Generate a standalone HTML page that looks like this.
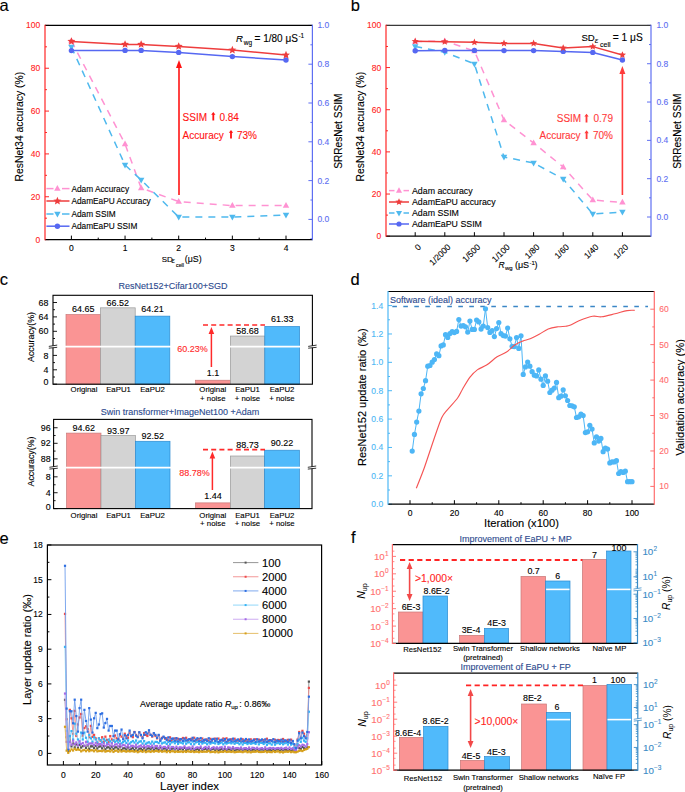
<!DOCTYPE html>
<html><head><meta charset="utf-8"><style>
html,body{margin:0;padding:0;background:#fff;width:685px;height:792px;overflow:hidden}
svg{display:block;font-family:"Liberation Sans", sans-serif}
</style></head><body>
<svg width="685" height="792" viewBox="0 0 685 792">
<rect width="685" height="792" fill="#fff"/>
<text x="-0.50" y="11.00" font-size="16.5" fill="#000" stroke="#000" stroke-width="0.12" text-anchor="start">a</text>
<line x1="45.00" y1="239.60" x2="49.00" y2="239.60" stroke="#FF2626" stroke-width="1"/>
<text x="40.20" y="242.60" font-size="8.5" fill="#FF2626" stroke="#FF2626" stroke-width="0.12" text-anchor="end">0</text>
<line x1="45.00" y1="218.18" x2="47.00" y2="218.18" stroke="#FF2626" stroke-width="1"/>
<line x1="45.00" y1="196.76" x2="49.00" y2="196.76" stroke="#FF2626" stroke-width="1"/>
<text x="40.20" y="199.76" font-size="8.5" fill="#FF2626" stroke="#FF2626" stroke-width="0.12" text-anchor="end">20</text>
<line x1="45.00" y1="175.34" x2="47.00" y2="175.34" stroke="#FF2626" stroke-width="1"/>
<line x1="45.00" y1="153.92" x2="49.00" y2="153.92" stroke="#FF2626" stroke-width="1"/>
<text x="40.20" y="156.92" font-size="8.5" fill="#FF2626" stroke="#FF2626" stroke-width="0.12" text-anchor="end">40</text>
<line x1="45.00" y1="132.50" x2="47.00" y2="132.50" stroke="#FF2626" stroke-width="1"/>
<line x1="45.00" y1="111.08" x2="49.00" y2="111.08" stroke="#FF2626" stroke-width="1"/>
<text x="40.20" y="114.08" font-size="8.5" fill="#FF2626" stroke="#FF2626" stroke-width="0.12" text-anchor="end">60</text>
<line x1="45.00" y1="89.66" x2="47.00" y2="89.66" stroke="#FF2626" stroke-width="1"/>
<line x1="45.00" y1="68.24" x2="49.00" y2="68.24" stroke="#FF2626" stroke-width="1"/>
<text x="40.20" y="71.24" font-size="8.5" fill="#FF2626" stroke="#FF2626" stroke-width="0.12" text-anchor="end">80</text>
<line x1="45.00" y1="46.82" x2="47.00" y2="46.82" stroke="#FF2626" stroke-width="1"/>
<line x1="45.00" y1="25.40" x2="49.00" y2="25.40" stroke="#FF2626" stroke-width="1"/>
<text x="40.20" y="28.40" font-size="8.5" fill="#FF2626" stroke="#FF2626" stroke-width="0.12" text-anchor="end">100</text>
<line x1="312.40" y1="238.80" x2="310.40" y2="238.80" stroke="#5E6FF2" stroke-width="1"/>
<line x1="312.40" y1="219.40" x2="308.40" y2="219.40" stroke="#5E6FF2" stroke-width="1"/>
<text x="317.40" y="222.40" font-size="8.5" fill="#5E6FF2" stroke="#5E6FF2" stroke-width="0.12" text-anchor="start">0.0</text>
<line x1="312.40" y1="200.00" x2="310.40" y2="200.00" stroke="#5E6FF2" stroke-width="1"/>
<line x1="312.40" y1="180.60" x2="308.40" y2="180.60" stroke="#5E6FF2" stroke-width="1"/>
<text x="317.40" y="183.60" font-size="8.5" fill="#5E6FF2" stroke="#5E6FF2" stroke-width="0.12" text-anchor="start">0.2</text>
<line x1="312.40" y1="161.20" x2="310.40" y2="161.20" stroke="#5E6FF2" stroke-width="1"/>
<line x1="312.40" y1="141.80" x2="308.40" y2="141.80" stroke="#5E6FF2" stroke-width="1"/>
<text x="317.40" y="144.80" font-size="8.5" fill="#5E6FF2" stroke="#5E6FF2" stroke-width="0.12" text-anchor="start">0.4</text>
<line x1="312.40" y1="122.40" x2="310.40" y2="122.40" stroke="#5E6FF2" stroke-width="1"/>
<line x1="312.40" y1="103.00" x2="308.40" y2="103.00" stroke="#5E6FF2" stroke-width="1"/>
<text x="317.40" y="106.00" font-size="8.5" fill="#5E6FF2" stroke="#5E6FF2" stroke-width="0.12" text-anchor="start">0.6</text>
<line x1="312.40" y1="83.60" x2="310.40" y2="83.60" stroke="#5E6FF2" stroke-width="1"/>
<line x1="312.40" y1="64.20" x2="308.40" y2="64.20" stroke="#5E6FF2" stroke-width="1"/>
<text x="317.40" y="67.20" font-size="8.5" fill="#5E6FF2" stroke="#5E6FF2" stroke-width="0.12" text-anchor="start">0.8</text>
<line x1="312.40" y1="44.80" x2="310.40" y2="44.80" stroke="#5E6FF2" stroke-width="1"/>
<line x1="312.40" y1="25.40" x2="308.40" y2="25.40" stroke="#5E6FF2" stroke-width="1"/>
<text x="317.40" y="28.40" font-size="8.5" fill="#5E6FF2" stroke="#5E6FF2" stroke-width="0.12" text-anchor="start">1.0</text>
<line x1="71.40" y1="239.60" x2="71.40" y2="235.60" stroke="#000" stroke-width="1"/>
<text x="71.40" y="251.20" font-size="8.5" fill="#000" stroke="#000" stroke-width="0.12" text-anchor="middle">0</text>
<line x1="98.23" y1="239.60" x2="98.23" y2="237.60" stroke="#000" stroke-width="1"/>
<line x1="125.05" y1="239.60" x2="125.05" y2="235.60" stroke="#000" stroke-width="1"/>
<text x="125.05" y="251.20" font-size="8.5" fill="#000" stroke="#000" stroke-width="0.12" text-anchor="middle">1</text>
<line x1="151.88" y1="239.60" x2="151.88" y2="237.60" stroke="#000" stroke-width="1"/>
<line x1="178.70" y1="239.60" x2="178.70" y2="235.60" stroke="#000" stroke-width="1"/>
<text x="178.70" y="251.20" font-size="8.5" fill="#000" stroke="#000" stroke-width="0.12" text-anchor="middle">2</text>
<line x1="205.53" y1="239.60" x2="205.53" y2="237.60" stroke="#000" stroke-width="1"/>
<line x1="232.35" y1="239.60" x2="232.35" y2="235.60" stroke="#000" stroke-width="1"/>
<text x="232.35" y="251.20" font-size="8.5" fill="#000" stroke="#000" stroke-width="0.12" text-anchor="middle">3</text>
<line x1="259.18" y1="239.60" x2="259.18" y2="237.60" stroke="#000" stroke-width="1"/>
<line x1="286.00" y1="239.60" x2="286.00" y2="235.60" stroke="#000" stroke-width="1"/>
<text x="286.00" y="251.20" font-size="8.5" fill="#000" stroke="#000" stroke-width="0.12" text-anchor="middle">4</text>
<line x1="45.00" y1="25.40" x2="312.40" y2="25.40" stroke="#000" stroke-width="1.2"/>
<line x1="45.00" y1="239.60" x2="312.40" y2="239.60" stroke="#000" stroke-width="1.2"/>
<line x1="45.00" y1="24.80" x2="45.00" y2="240.20" stroke="#FF2626" stroke-width="1.2"/>
<line x1="312.40" y1="24.80" x2="312.40" y2="240.20" stroke="#5E6FF2" stroke-width="1.2"/>
<polyline points="71.40,41.00 125.05,144.00 141.15,188.00 178.70,201.60 232.35,205.60 286.00,205.60" fill="none" stroke="#FF92D2" stroke-width="1.5" stroke-linejoin="round" stroke-dasharray="7,6"/>
<polygon points="71.40,37.40 74.64,43.16 68.16,43.16" fill="#FF92D2"/>
<polygon points="125.05,140.40 128.29,146.16 121.81,146.16" fill="#FF92D2"/>
<polygon points="141.15,184.40 144.39,190.16 137.91,190.16" fill="#FF92D2"/>
<polygon points="178.70,198.00 181.94,203.76 175.46,203.76" fill="#FF92D2"/>
<polygon points="232.35,202.00 235.59,207.76 229.11,207.76" fill="#FF92D2"/>
<polygon points="286.00,202.00 289.24,207.76 282.76,207.76" fill="#FF92D2"/>
<polyline points="71.40,47.00 125.05,165.00 141.15,180.00 178.70,217.00 232.35,217.00 286.00,215.00" fill="none" stroke="#4FB9EE" stroke-width="1.5" stroke-linejoin="round" stroke-dasharray="7,6"/>
<polygon points="71.40,50.60 74.64,44.84 68.16,44.84" fill="#4FB9EE"/>
<polygon points="125.05,168.60 128.29,162.84 121.81,162.84" fill="#4FB9EE"/>
<polygon points="141.15,183.60 144.39,177.84 137.91,177.84" fill="#4FB9EE"/>
<polygon points="178.70,220.60 181.94,214.84 175.46,214.84" fill="#4FB9EE"/>
<polygon points="232.35,220.60 235.59,214.84 229.11,214.84" fill="#4FB9EE"/>
<polygon points="286.00,218.60 289.24,212.84 282.76,212.84" fill="#4FB9EE"/>
<polyline points="71.40,50.60 125.05,50.40 141.15,50.40 178.70,52.40 232.35,56.60 286.00,60.00" fill="none" stroke="#5668F2" stroke-width="1.5" stroke-linejoin="round"/>
<circle cx="71.40" cy="50.60" r="2.7" fill="#5668F2"/>
<circle cx="125.05" cy="50.40" r="2.7" fill="#5668F2"/>
<circle cx="141.15" cy="50.40" r="2.7" fill="#5668F2"/>
<circle cx="178.70" cy="52.40" r="2.7" fill="#5668F2"/>
<circle cx="232.35" cy="56.60" r="2.7" fill="#5668F2"/>
<circle cx="286.00" cy="60.00" r="2.7" fill="#5668F2"/>
<polyline points="71.40,41.40 125.05,44.40 141.15,44.40 178.70,46.40 232.35,50.00 286.00,55.00" fill="none" stroke="#EE3D3D" stroke-width="1.5" stroke-linejoin="round"/>
<polygon points="71.40,37.20 72.51,39.87 75.39,40.10 73.20,41.98 73.87,44.80 71.40,43.29 68.93,44.80 69.60,41.98 67.41,40.10 70.29,39.87" fill="#EE3D3D"/>
<polygon points="125.05,40.20 126.16,42.87 129.04,43.10 126.85,44.98 127.52,47.80 125.05,46.29 122.58,47.80 123.25,44.98 121.06,43.10 123.94,42.87" fill="#EE3D3D"/>
<polygon points="141.15,40.20 142.26,42.87 145.14,43.10 142.94,44.98 143.61,47.80 141.15,46.29 138.68,47.80 139.35,44.98 137.15,43.10 140.03,42.87" fill="#EE3D3D"/>
<polygon points="178.70,42.20 179.81,44.87 182.69,45.10 180.50,46.98 181.17,49.80 178.70,48.29 176.23,49.80 176.90,46.98 174.71,45.10 177.59,44.87" fill="#EE3D3D"/>
<polygon points="232.35,45.80 233.46,48.47 236.34,48.70 234.15,50.58 234.82,53.40 232.35,51.89 229.88,53.40 230.55,50.58 228.36,48.70 231.24,48.47" fill="#EE3D3D"/>
<polygon points="286.00,50.80 287.11,53.47 289.99,53.70 287.80,55.58 288.47,58.40 286.00,56.89 283.53,58.40 284.20,55.58 282.01,53.70 284.89,53.47" fill="#EE3D3D"/>
<line x1="46.40" y1="188.60" x2="53.50" y2="188.60" stroke="#FF92D2" stroke-width="1.5"/>
<line x1="62.00" y1="188.60" x2="69.50" y2="188.60" stroke="#FF92D2" stroke-width="1.5"/>
<polygon points="57.40,185.00 60.64,190.76 54.16,190.76" fill="#FF92D2"/>
<text x="71.40" y="191.60" font-size="8.3" fill="#000" stroke="#000" stroke-width="0.12" text-anchor="start">Adam Accuracy</text>
<line x1="46.40" y1="201.00" x2="69.50" y2="201.00" stroke="#EE3D3D" stroke-width="1.5"/>
<polygon points="57.40,196.80 58.51,199.47 61.39,199.70 59.20,201.58 59.87,204.40 57.40,202.89 54.93,204.40 55.60,201.58 53.41,199.70 56.29,199.47" fill="#EE3D3D"/>
<text x="71.40" y="204.00" font-size="8.3" fill="#000" stroke="#000" stroke-width="0.12" text-anchor="start">AdamEaPU Accuracy</text>
<line x1="46.40" y1="214.00" x2="53.50" y2="214.00" stroke="#4FB9EE" stroke-width="1.5"/>
<line x1="62.00" y1="214.00" x2="69.50" y2="214.00" stroke="#4FB9EE" stroke-width="1.5"/>
<polygon points="57.40,217.60 60.64,211.84 54.16,211.84" fill="#4FB9EE"/>
<text x="71.40" y="217.00" font-size="8.3" fill="#000" stroke="#000" stroke-width="0.12" text-anchor="start">Adam SSIM</text>
<line x1="46.40" y1="226.20" x2="69.50" y2="226.20" stroke="#5668F2" stroke-width="1.5"/>
<circle cx="57.40" cy="226.20" r="2.7" fill="#5668F2"/>
<text x="71.40" y="229.20" font-size="8.3" fill="#000" stroke="#000" stroke-width="0.12" text-anchor="start">AdamEaPU SSIM</text>
<line x1="179.00" y1="195.00" x2="179.00" y2="67.00" stroke="#FF1414" stroke-width="1.6"/>
<polygon points="179.00,60.00 182.00,68.00 176.00,68.00" fill="#FF1414"/>
<text x="182.60" y="120.60" font-size="10" fill="#FF1414" stroke="#FF1414" stroke-width="0.12" text-anchor="start">SSIM</text>
<path d="M213.30,111.90 L215.45,114.80 L214.20,114.80 L214.20,120.60 L212.40,120.60 L212.40,114.80 L211.15,114.80 Z" fill="#FF1414"/>
<text x="219.40" y="120.60" font-size="10" fill="#FF1414" stroke="#FF1414" stroke-width="0.12" text-anchor="start">0.84</text>
<text x="182.60" y="138.60" font-size="10" fill="#FF1414" stroke="#FF1414" stroke-width="0.12" text-anchor="start">Accuracy</text>
<path d="M231.00,129.90 L233.15,132.80 L231.90,132.80 L231.90,138.60 L230.10,138.60 L230.10,132.80 L228.85,132.80 Z" fill="#FF1414"/>
<text x="237.00" y="138.60" font-size="10" fill="#FF1414" stroke="#FF1414" stroke-width="0.12" text-anchor="start">73%</text>
<text x="236.10" y="42.00" font-size="9.6" fill="#000" stroke="#000" stroke-width="0.12" text-anchor="start" font-style="italic">R</text>
<text x="243.80" y="44.60" font-size="6.5" fill="#000" stroke="#000" stroke-width="0.12" text-anchor="start">wg</text>
<text x="254.60" y="42.00" font-size="10" fill="#000" stroke="#000" stroke-width="0.12" text-anchor="start">= 1/80 μS</text>
<text x="298.40" y="37.60" font-size="6.5" fill="#000" stroke="#000" stroke-width="0.12" text-anchor="start">-1</text>
<text x="23.30" y="126.70" font-size="10.4" fill="#000" stroke="#000" stroke-width="0.12" text-anchor="middle" transform="rotate(-90 23.30 126.70)">ResNet34 accuracy (%)</text>
<text x="342.30" y="131.20" font-size="10.1" fill="#000" stroke="#000" stroke-width="0.12" text-anchor="middle" transform="rotate(-90 342.30 131.20)">SRResNet SSIM</text>
<text x="161.70" y="262.00" font-size="7.9" fill="#000" stroke="#000" stroke-width="0.12" text-anchor="start">SD</text>
<text x="171.60" y="263.40" font-size="7.6" fill="#000" stroke="#000" stroke-width="0.12" text-anchor="start" font-style="italic">ε</text>
<text x="176.00" y="267.30" font-size="5.3" fill="#000" stroke="#000" stroke-width="0.12" text-anchor="start">cell</text>
<text x="184.70" y="262.00" font-size="8.85" fill="#000" stroke="#000" stroke-width="0.12" text-anchor="start">(μS)</text>
<text x="350.70" y="11.00" font-size="16.5" fill="#000" stroke="#000" stroke-width="0.12" text-anchor="start">b</text>
<line x1="386.00" y1="236.20" x2="390.00" y2="236.20" stroke="#FF2626" stroke-width="1"/>
<text x="381.20" y="239.20" font-size="8.5" fill="#FF2626" stroke="#FF2626" stroke-width="0.12" text-anchor="end">0</text>
<line x1="386.00" y1="215.12" x2="388.00" y2="215.12" stroke="#FF2626" stroke-width="1"/>
<line x1="386.00" y1="194.04" x2="390.00" y2="194.04" stroke="#FF2626" stroke-width="1"/>
<text x="381.20" y="197.04" font-size="8.5" fill="#FF2626" stroke="#FF2626" stroke-width="0.12" text-anchor="end">20</text>
<line x1="386.00" y1="172.96" x2="388.00" y2="172.96" stroke="#FF2626" stroke-width="1"/>
<line x1="386.00" y1="151.88" x2="390.00" y2="151.88" stroke="#FF2626" stroke-width="1"/>
<text x="381.20" y="154.88" font-size="8.5" fill="#FF2626" stroke="#FF2626" stroke-width="0.12" text-anchor="end">40</text>
<line x1="386.00" y1="130.80" x2="388.00" y2="130.80" stroke="#FF2626" stroke-width="1"/>
<line x1="386.00" y1="109.72" x2="390.00" y2="109.72" stroke="#FF2626" stroke-width="1"/>
<text x="381.20" y="112.72" font-size="8.5" fill="#FF2626" stroke="#FF2626" stroke-width="0.12" text-anchor="end">60</text>
<line x1="386.00" y1="88.64" x2="388.00" y2="88.64" stroke="#FF2626" stroke-width="1"/>
<line x1="386.00" y1="67.56" x2="390.00" y2="67.56" stroke="#FF2626" stroke-width="1"/>
<text x="381.20" y="70.56" font-size="8.5" fill="#FF2626" stroke="#FF2626" stroke-width="0.12" text-anchor="end">80</text>
<line x1="386.00" y1="46.48" x2="388.00" y2="46.48" stroke="#FF2626" stroke-width="1"/>
<line x1="386.00" y1="25.40" x2="390.00" y2="25.40" stroke="#FF2626" stroke-width="1"/>
<text x="381.20" y="28.40" font-size="8.5" fill="#FF2626" stroke="#FF2626" stroke-width="0.12" text-anchor="end">100</text>
<line x1="651.00" y1="217.00" x2="647.00" y2="217.00" stroke="#5E6FF2" stroke-width="1"/>
<text x="656.40" y="220.00" font-size="8.5" fill="#5E6FF2" stroke="#5E6FF2" stroke-width="0.12" text-anchor="start">0.0</text>
<line x1="651.00" y1="197.84" x2="649.00" y2="197.84" stroke="#5E6FF2" stroke-width="1"/>
<line x1="651.00" y1="178.68" x2="647.00" y2="178.68" stroke="#5E6FF2" stroke-width="1"/>
<text x="656.40" y="181.68" font-size="8.5" fill="#5E6FF2" stroke="#5E6FF2" stroke-width="0.12" text-anchor="start">0.2</text>
<line x1="651.00" y1="159.52" x2="649.00" y2="159.52" stroke="#5E6FF2" stroke-width="1"/>
<line x1="651.00" y1="140.36" x2="647.00" y2="140.36" stroke="#5E6FF2" stroke-width="1"/>
<text x="656.40" y="143.36" font-size="8.5" fill="#5E6FF2" stroke="#5E6FF2" stroke-width="0.12" text-anchor="start">0.4</text>
<line x1="651.00" y1="121.20" x2="649.00" y2="121.20" stroke="#5E6FF2" stroke-width="1"/>
<line x1="651.00" y1="102.04" x2="647.00" y2="102.04" stroke="#5E6FF2" stroke-width="1"/>
<text x="656.40" y="105.04" font-size="8.5" fill="#5E6FF2" stroke="#5E6FF2" stroke-width="0.12" text-anchor="start">0.6</text>
<line x1="651.00" y1="82.88" x2="649.00" y2="82.88" stroke="#5E6FF2" stroke-width="1"/>
<line x1="651.00" y1="63.72" x2="647.00" y2="63.72" stroke="#5E6FF2" stroke-width="1"/>
<text x="656.40" y="66.72" font-size="8.5" fill="#5E6FF2" stroke="#5E6FF2" stroke-width="0.12" text-anchor="start">0.8</text>
<line x1="651.00" y1="44.56" x2="649.00" y2="44.56" stroke="#5E6FF2" stroke-width="1"/>
<line x1="651.00" y1="25.40" x2="647.00" y2="25.40" stroke="#5E6FF2" stroke-width="1"/>
<text x="656.40" y="28.40" font-size="8.5" fill="#5E6FF2" stroke="#5E6FF2" stroke-width="0.12" text-anchor="start">1.0</text>
<line x1="415.20" y1="236.20" x2="415.20" y2="232.20" stroke="#000" stroke-width="1"/>
<text x="421.60" y="247.60" font-size="8.5" fill="#000" stroke="#000" stroke-width="0.12" text-anchor="end" transform="rotate(-45 421.60 247.60)">0</text>
<line x1="444.80" y1="236.20" x2="444.80" y2="232.20" stroke="#000" stroke-width="1"/>
<text x="451.20" y="247.60" font-size="8.5" fill="#000" stroke="#000" stroke-width="0.12" text-anchor="end" transform="rotate(-45 451.20 247.60)">1/2000</text>
<line x1="474.40" y1="236.20" x2="474.40" y2="232.20" stroke="#000" stroke-width="1"/>
<text x="480.80" y="247.60" font-size="8.5" fill="#000" stroke="#000" stroke-width="0.12" text-anchor="end" transform="rotate(-45 480.80 247.60)">1/500</text>
<line x1="504.00" y1="236.20" x2="504.00" y2="232.20" stroke="#000" stroke-width="1"/>
<text x="510.40" y="247.60" font-size="8.5" fill="#000" stroke="#000" stroke-width="0.12" text-anchor="end" transform="rotate(-45 510.40 247.60)">1/100</text>
<line x1="533.60" y1="236.20" x2="533.60" y2="232.20" stroke="#000" stroke-width="1"/>
<text x="540.00" y="247.60" font-size="8.5" fill="#000" stroke="#000" stroke-width="0.12" text-anchor="end" transform="rotate(-45 540.00 247.60)">1/80</text>
<line x1="563.20" y1="236.20" x2="563.20" y2="232.20" stroke="#000" stroke-width="1"/>
<text x="569.60" y="247.60" font-size="8.5" fill="#000" stroke="#000" stroke-width="0.12" text-anchor="end" transform="rotate(-45 569.60 247.60)">1/60</text>
<line x1="592.80" y1="236.20" x2="592.80" y2="232.20" stroke="#000" stroke-width="1"/>
<text x="599.20" y="247.60" font-size="8.5" fill="#000" stroke="#000" stroke-width="0.12" text-anchor="end" transform="rotate(-45 599.20 247.60)">1/40</text>
<line x1="622.40" y1="236.20" x2="622.40" y2="232.20" stroke="#000" stroke-width="1"/>
<text x="628.80" y="247.60" font-size="8.5" fill="#000" stroke="#000" stroke-width="0.12" text-anchor="end" transform="rotate(-45 628.80 247.60)">1/20</text>
<line x1="386.00" y1="25.40" x2="651.00" y2="25.40" stroke="#3a3a3a" stroke-width="1.3"/>
<line x1="386.00" y1="236.20" x2="651.00" y2="236.20" stroke="#000" stroke-width="1.2"/>
<line x1="386.00" y1="24.80" x2="386.00" y2="236.80" stroke="#FF2626" stroke-width="1.2"/>
<line x1="651.00" y1="24.80" x2="651.00" y2="236.80" stroke="#5E6FF2" stroke-width="1.2"/>
<polyline points="415.20,41.50 444.80,41.00 474.40,51.00 504.00,120.00 533.60,143.00 563.20,167.00 592.80,200.00 622.40,202.40" fill="none" stroke="#FF92D2" stroke-width="1.5" stroke-linejoin="round" stroke-dasharray="7,6"/>
<polygon points="415.20,37.90 418.44,43.66 411.96,43.66" fill="#FF92D2"/>
<polygon points="444.80,37.40 448.04,43.16 441.56,43.16" fill="#FF92D2"/>
<polygon points="474.40,47.40 477.64,53.16 471.16,53.16" fill="#FF92D2"/>
<polygon points="504.00,116.40 507.24,122.16 500.76,122.16" fill="#FF92D2"/>
<polygon points="533.60,139.40 536.84,145.16 530.36,145.16" fill="#FF92D2"/>
<polygon points="563.20,163.40 566.44,169.16 559.96,169.16" fill="#FF92D2"/>
<polygon points="592.80,196.40 596.04,202.16 589.56,202.16" fill="#FF92D2"/>
<polygon points="622.40,198.80 625.64,204.56 619.16,204.56" fill="#FF92D2"/>
<polyline points="415.20,46.40 444.80,52.20 474.40,63.90 504.00,157.00 533.60,163.00 563.20,179.00 592.80,214.00 622.40,212.00" fill="none" stroke="#4FB9EE" stroke-width="1.5" stroke-linejoin="round" stroke-dasharray="7,6"/>
<polygon points="415.20,50.00 418.44,44.24 411.96,44.24" fill="#4FB9EE"/>
<polygon points="444.80,55.80 448.04,50.04 441.56,50.04" fill="#4FB9EE"/>
<polygon points="474.40,67.50 477.64,61.74 471.16,61.74" fill="#4FB9EE"/>
<polygon points="504.00,160.60 507.24,154.84 500.76,154.84" fill="#4FB9EE"/>
<polygon points="533.60,166.60 536.84,160.84 530.36,160.84" fill="#4FB9EE"/>
<polygon points="563.20,182.60 566.44,176.84 559.96,176.84" fill="#4FB9EE"/>
<polygon points="592.80,217.60 596.04,211.84 589.56,211.84" fill="#4FB9EE"/>
<polygon points="622.40,215.60 625.64,209.84 619.16,209.84" fill="#4FB9EE"/>
<polyline points="415.20,50.80 444.80,50.40 474.40,50.40 504.00,50.60 533.60,50.60 563.20,51.40 592.80,52.40 622.40,60.00" fill="none" stroke="#5668F2" stroke-width="1.5" stroke-linejoin="round"/>
<circle cx="415.20" cy="50.80" r="2.7" fill="#5668F2"/>
<circle cx="444.80" cy="50.40" r="2.7" fill="#5668F2"/>
<circle cx="474.40" cy="50.40" r="2.7" fill="#5668F2"/>
<circle cx="504.00" cy="50.60" r="2.7" fill="#5668F2"/>
<circle cx="533.60" cy="50.60" r="2.7" fill="#5668F2"/>
<circle cx="563.20" cy="51.40" r="2.7" fill="#5668F2"/>
<circle cx="592.80" cy="52.40" r="2.7" fill="#5668F2"/>
<circle cx="622.40" cy="60.00" r="2.7" fill="#5668F2"/>
<polyline points="415.20,41.30 444.80,41.70 474.40,42.30 504.00,43.40 533.60,43.40 563.20,48.00 592.80,46.60 622.40,55.00" fill="none" stroke="#EE3D3D" stroke-width="1.5" stroke-linejoin="round"/>
<polygon points="415.20,37.50 416.21,39.92 418.81,40.13 416.83,41.83 417.43,44.37 415.20,43.01 412.97,44.37 413.57,41.83 411.59,40.13 414.19,39.92" fill="#EE3D3D"/>
<polygon points="444.80,37.90 445.81,40.32 448.41,40.53 446.43,42.23 447.03,44.77 444.80,43.41 442.57,44.77 443.17,42.23 441.19,40.53 443.79,40.32" fill="#EE3D3D"/>
<polygon points="474.40,38.50 475.41,40.92 478.01,41.13 476.03,42.83 476.63,45.37 474.40,44.01 472.17,45.37 472.77,42.83 470.79,41.13 473.39,40.92" fill="#EE3D3D"/>
<polygon points="504.00,39.60 505.01,42.02 507.61,42.23 505.63,43.93 506.23,46.47 504.00,45.11 501.77,46.47 502.37,43.93 500.39,42.23 502.99,42.02" fill="#EE3D3D"/>
<polygon points="533.60,39.60 534.61,42.02 537.21,42.23 535.23,43.93 535.83,46.47 533.60,45.11 531.37,46.47 531.97,43.93 529.99,42.23 532.59,42.02" fill="#EE3D3D"/>
<polygon points="563.20,44.20 564.21,46.62 566.81,46.83 564.83,48.53 565.43,51.07 563.20,49.71 560.97,51.07 561.57,48.53 559.59,46.83 562.19,46.62" fill="#EE3D3D"/>
<polygon points="592.80,42.80 593.81,45.22 596.41,45.43 594.43,47.13 595.03,49.67 592.80,48.31 590.57,49.67 591.17,47.13 589.19,45.43 591.79,45.22" fill="#EE3D3D"/>
<polygon points="622.40,51.20 623.41,53.62 626.01,53.83 624.03,55.53 624.63,58.07 622.40,56.71 620.17,58.07 620.77,55.53 618.79,53.83 621.39,53.62" fill="#EE3D3D"/>
<line x1="389.00" y1="190.60" x2="394.50" y2="190.60" stroke="#FF92D2" stroke-width="1.5"/>
<line x1="403.50" y1="190.60" x2="409.00" y2="190.60" stroke="#FF92D2" stroke-width="1.5"/>
<polygon points="399.00,187.20 402.06,192.64 395.94,192.64" fill="#FF92D2"/>
<text x="412.00" y="193.70" font-size="8.8" fill="#000" stroke="#000" stroke-width="0.12" text-anchor="start">Adam accuracy</text>
<line x1="389.00" y1="202.00" x2="409.00" y2="202.00" stroke="#EE3D3D" stroke-width="1.5"/>
<polygon points="399.00,198.20 400.01,200.62 402.61,200.83 400.63,202.53 401.23,205.07 399.00,203.71 396.77,205.07 397.37,202.53 395.39,200.83 397.99,200.62" fill="#EE3D3D"/>
<text x="412.00" y="205.10" font-size="8.8" fill="#000" stroke="#000" stroke-width="0.12" text-anchor="start">AdamEaPU accuracy</text>
<line x1="389.00" y1="213.00" x2="394.50" y2="213.00" stroke="#4FB9EE" stroke-width="1.5"/>
<line x1="403.50" y1="213.00" x2="409.00" y2="213.00" stroke="#4FB9EE" stroke-width="1.5"/>
<polygon points="399.00,216.40 402.06,210.96 395.94,210.96" fill="#4FB9EE"/>
<text x="412.00" y="216.10" font-size="8.8" fill="#000" stroke="#000" stroke-width="0.12" text-anchor="start">Adam SSIM</text>
<line x1="389.00" y1="224.00" x2="409.00" y2="224.00" stroke="#5668F2" stroke-width="1.5"/>
<circle cx="399.00" cy="224.00" r="2.6" fill="#5668F2"/>
<text x="412.00" y="227.10" font-size="8.8" fill="#000" stroke="#000" stroke-width="0.12" text-anchor="start">AdamEaPU SSIM</text>
<line x1="622.40" y1="195.00" x2="622.40" y2="73.00" stroke="#FF3B3B" stroke-width="1.6"/>
<polygon points="622.40,66.00 625.40,74.00 619.40,74.00" fill="#FF3B3B"/>
<text x="613.00" y="122.40" font-size="10" fill="#FF3B3B" stroke="#FF3B3B" stroke-width="0.12" text-anchor="end">0.79</text>
<path d="M586.50,113.70 L588.65,116.60 L587.40,116.60 L587.40,122.40 L585.60,122.40 L585.60,116.60 L584.35,116.60 Z" fill="#FF3B3B"/>
<text x="581.20" y="122.40" font-size="10" fill="#FF3B3B" stroke="#FF3B3B" stroke-width="0.12" text-anchor="end">SSIM</text>
<text x="613.00" y="139.00" font-size="10" fill="#FF3B3B" stroke="#FF3B3B" stroke-width="0.12" text-anchor="end">70%</text>
<path d="M586.60,130.30 L588.75,133.20 L587.50,133.20 L587.50,139.00 L585.70,139.00 L585.70,133.20 L584.45,133.20 Z" fill="#FF3B3B"/>
<text x="580.60" y="139.00" font-size="10" fill="#FF3B3B" stroke="#FF3B3B" stroke-width="0.12" text-anchor="end">Accuracy</text>
<text x="581.40" y="40.60" font-size="9.6" fill="#000" stroke="#000" stroke-width="0.12" text-anchor="start">SD</text>
<text x="594.70" y="42.80" font-size="8" fill="#000" stroke="#000" stroke-width="0.12" text-anchor="start" font-style="italic">ε</text>
<text x="600.00" y="47.20" font-size="7" fill="#000" stroke="#000" stroke-width="0.12" text-anchor="start">cell</text>
<text x="612.80" y="40.60" font-size="10.2" fill="#000" stroke="#000" stroke-width="0.12" text-anchor="start">= 1 μS</text>
<text x="364.30" y="126.70" font-size="10.4" fill="#000" stroke="#000" stroke-width="0.12" text-anchor="middle" transform="rotate(-90 364.30 126.70)">ResNet34 accuracy (%)</text>
<text x="680.60" y="131.20" font-size="10.1" fill="#000" stroke="#000" stroke-width="0.12" text-anchor="middle" transform="rotate(-90 680.60 131.20)">SRResNet SSIM</text>
<text x="498.40" y="268.30" font-size="8.5" fill="#000" stroke="#000" stroke-width="0.12" text-anchor="start" font-style="italic">R</text>
<text x="504.90" y="270.20" font-size="6" fill="#000" stroke="#000" stroke-width="0.12" text-anchor="start">wg</text>
<text x="514.90" y="268.30" font-size="9" fill="#000" stroke="#000" stroke-width="0.12" text-anchor="start">(μS</text>
<text x="529.40" y="264.60" font-size="6" fill="#000" stroke="#000" stroke-width="0.12" text-anchor="start">-1</text>
<text x="534.60" y="268.30" font-size="9" fill="#000" stroke="#000" stroke-width="0.12" text-anchor="start">)</text>
<text x="-0.30" y="284.60" font-size="16.5" fill="#000" stroke="#000" stroke-width="0.12" text-anchor="start">c</text>
<rect x="66.00" y="314.56" width="34.50" height="69.64" fill="#FA9494" stroke="#C87878" stroke-width="0.7"/>
<text x="83.25" y="312.40" font-size="9.0" fill="#000" stroke="#000" stroke-width="0.12" text-anchor="middle">64.65</text>
<rect x="100.50" y="307.83" width="34.70" height="76.37" fill="#D3D3D3" stroke="#9A9A9A" stroke-width="0.7"/>
<text x="117.85" y="305.60" font-size="9.0" fill="#000" stroke="#000" stroke-width="0.12" text-anchor="middle">66.52</text>
<rect x="135.20" y="316.14" width="34.60" height="68.06" fill="#50BAFB" stroke="#2C8AD0" stroke-width="0.7"/>
<text x="152.50" y="312.00" font-size="9.0" fill="#000" stroke="#000" stroke-width="0.12" text-anchor="middle">64.21</text>
<rect x="195.60" y="380.24" width="34.80" height="3.96" fill="#FA9494" stroke="#C87878" stroke-width="0.7"/>
<text x="213.00" y="376.00" font-size="9.0" fill="#000" stroke="#000" stroke-width="0.12" text-anchor="middle">1.1</text>
<rect x="230.40" y="336.05" width="34.40" height="48.15" fill="#D3D3D3" stroke="#9A9A9A" stroke-width="0.7"/>
<text x="247.60" y="334.40" font-size="9.0" fill="#000" stroke="#000" stroke-width="0.12" text-anchor="middle">58.68</text>
<rect x="264.80" y="326.51" width="34.80" height="57.69" fill="#50BAFB" stroke="#2C8AD0" stroke-width="0.7"/>
<text x="282.20" y="321.60" font-size="9.0" fill="#000" stroke="#000" stroke-width="0.12" text-anchor="middle">61.33</text>
<line x1="53.60" y1="346.70" x2="311.80" y2="346.70" stroke="#fff" stroke-width="1.8"/>
<rect x="53" y="295.3" width="259.40" height="88.90" fill="none" stroke="#000" stroke-width="1.1"/>
<line x1="53.00" y1="302.50" x2="57.00" y2="302.50" stroke="#000" stroke-width="0.9"/>
<text x="48.40" y="305.50" font-size="8.9" fill="#000" stroke="#000" stroke-width="0.12" text-anchor="end">68</text>
<line x1="53.00" y1="309.70" x2="55.00" y2="309.70" stroke="#000" stroke-width="0.9"/>
<line x1="53.00" y1="316.90" x2="57.00" y2="316.90" stroke="#000" stroke-width="0.9"/>
<text x="48.40" y="319.90" font-size="8.9" fill="#000" stroke="#000" stroke-width="0.12" text-anchor="end">64</text>
<line x1="53.00" y1="324.10" x2="55.00" y2="324.10" stroke="#000" stroke-width="0.9"/>
<line x1="53.00" y1="331.30" x2="57.00" y2="331.30" stroke="#000" stroke-width="0.9"/>
<text x="48.40" y="334.30" font-size="8.9" fill="#000" stroke="#000" stroke-width="0.12" text-anchor="end">60</text>
<line x1="53.00" y1="338.50" x2="55.00" y2="338.50" stroke="#000" stroke-width="0.9"/>
<line x1="53.00" y1="355.40" x2="57.00" y2="355.40" stroke="#000" stroke-width="0.9"/>
<text x="48.40" y="358.50" font-size="8.9" fill="#000" stroke="#000" stroke-width="0.12" text-anchor="end">8</text>
<line x1="53.00" y1="362.60" x2="55.00" y2="362.60" stroke="#000" stroke-width="0.9"/>
<line x1="53.00" y1="369.80" x2="57.00" y2="369.80" stroke="#000" stroke-width="0.9"/>
<text x="48.40" y="372.90" font-size="8.9" fill="#000" stroke="#000" stroke-width="0.12" text-anchor="end">4</text>
<line x1="53.00" y1="377.00" x2="55.00" y2="377.00" stroke="#000" stroke-width="0.9"/>
<line x1="53.00" y1="384.20" x2="57.00" y2="384.20" stroke="#000" stroke-width="0.9"/>
<text x="48.40" y="385.20" font-size="8.9" fill="#000" stroke="#000" stroke-width="0.12" text-anchor="end">0</text>
<polygon points="48.80,346.40 57.20,345.10 57.20,347.30 48.80,348.20" fill="#fff"/>
<line x1="48.80" y1="346.40" x2="57.20" y2="345.10" stroke="#000" stroke-width="0.8"/>
<line x1="48.80" y1="348.20" x2="57.20" y2="347.30" stroke="#000" stroke-width="0.8"/>
<polygon points="308.20,346.40 316.60,345.10 316.60,347.30 308.20,348.20" fill="#fff"/>
<line x1="308.20" y1="346.40" x2="316.60" y2="345.10" stroke="#000" stroke-width="0.8"/>
<line x1="308.20" y1="348.20" x2="316.60" y2="347.30" stroke="#000" stroke-width="0.8"/>
<text x="173.00" y="289.20" font-size="9.0" fill="#2D4A8E" stroke="#2D4A8E" stroke-width="0.12" text-anchor="middle">ResNet152+Cifar100+SGD</text>
<text x="84.00" y="392.40" font-size="7.8" fill="#000" stroke="#000" stroke-width="0.12" text-anchor="middle">Original</text>
<text x="118.50" y="392.40" font-size="7.8" fill="#000" stroke="#000" stroke-width="0.12" text-anchor="middle">EaPU1</text>
<text x="152.50" y="392.40" font-size="7.8" fill="#000" stroke="#000" stroke-width="0.12" text-anchor="middle">EaPU2</text>
<text x="212.80" y="392.40" font-size="7.8" fill="#000" stroke="#000" stroke-width="0.12" text-anchor="middle">Original</text>
<text x="212.80" y="401.00" font-size="7.8" fill="#000" stroke="#000" stroke-width="0.12" text-anchor="middle">+ noise</text>
<text x="247.50" y="392.40" font-size="7.8" fill="#000" stroke="#000" stroke-width="0.12" text-anchor="middle">EaPU1</text>
<text x="247.50" y="401.00" font-size="7.8" fill="#000" stroke="#000" stroke-width="0.12" text-anchor="middle">+ noise</text>
<text x="282.00" y="392.40" font-size="7.8" fill="#000" stroke="#000" stroke-width="0.12" text-anchor="middle">EaPU2</text>
<text x="282.00" y="401.00" font-size="7.8" fill="#000" stroke="#000" stroke-width="0.12" text-anchor="middle">+ noise</text>
<line x1="203.00" y1="325.00" x2="265.00" y2="325.00" stroke="#FF2A2A" stroke-width="1.6" stroke-dasharray="5,3.2"/>
<line x1="211.40" y1="367.00" x2="211.40" y2="333.00" stroke="#FF2A2A" stroke-width="1.5"/>
<polygon points="211.40,327.00 214.20,334.00 208.60,334.00" fill="#FF2A2A"/>
<text x="192.60" y="351.50" font-size="9.0" fill="#FF2A2A" stroke="#FF2A2A" stroke-width="0.12" text-anchor="middle">60.23%</text>
<rect x="66.60" y="433.11" width="34.40" height="75.49" fill="#FA9494" stroke="#C87878" stroke-width="0.7"/>
<text x="83.80" y="431.00" font-size="9.0" fill="#000" stroke="#000" stroke-width="0.12" text-anchor="middle">94.62</text>
<rect x="101.00" y="435.64" width="34.40" height="72.96" fill="#D3D3D3" stroke="#9A9A9A" stroke-width="0.7"/>
<text x="118.20" y="434.00" font-size="9.0" fill="#000" stroke="#000" stroke-width="0.12" text-anchor="middle">93.97</text>
<rect x="135.40" y="441.28" width="34.60" height="67.32" fill="#50BAFB" stroke="#2C8AD0" stroke-width="0.7"/>
<text x="152.70" y="439.00" font-size="9.0" fill="#000" stroke="#000" stroke-width="0.12" text-anchor="middle">92.52</text>
<rect x="195.60" y="502.88" width="34.80" height="5.72" fill="#FA9494" stroke="#C87878" stroke-width="0.7"/>
<text x="213.00" y="499.40" font-size="9.0" fill="#000" stroke="#000" stroke-width="0.12" text-anchor="middle">1.44</text>
<rect x="230.40" y="456.02" width="34.20" height="52.58" fill="#D3D3D3" stroke="#9A9A9A" stroke-width="0.7"/>
<text x="247.50" y="448.00" font-size="9.0" fill="#000" stroke="#000" stroke-width="0.12" text-anchor="middle">88.73</text>
<rect x="264.60" y="450.22" width="34.80" height="58.38" fill="#50BAFB" stroke="#2C8AD0" stroke-width="0.7"/>
<text x="282.00" y="446.00" font-size="9.0" fill="#000" stroke="#000" stroke-width="0.12" text-anchor="middle">90.22</text>
<line x1="54.20" y1="467.60" x2="311.40" y2="467.60" stroke="#fff" stroke-width="1.8"/>
<rect x="53.6" y="419.4" width="258.40" height="89.20" fill="none" stroke="#000" stroke-width="1.1"/>
<line x1="53.60" y1="427.74" x2="57.60" y2="427.74" stroke="#000" stroke-width="0.9"/>
<text x="50.70" y="430.74" font-size="8.9" fill="#000" stroke="#000" stroke-width="0.12" text-anchor="end">96</text>
<line x1="53.60" y1="435.52" x2="55.60" y2="435.52" stroke="#000" stroke-width="0.9"/>
<line x1="53.60" y1="443.30" x2="57.60" y2="443.30" stroke="#000" stroke-width="0.9"/>
<text x="50.70" y="446.30" font-size="8.9" fill="#000" stroke="#000" stroke-width="0.12" text-anchor="end">92</text>
<line x1="53.60" y1="451.08" x2="55.60" y2="451.08" stroke="#000" stroke-width="0.9"/>
<line x1="53.60" y1="458.86" x2="57.60" y2="458.86" stroke="#000" stroke-width="0.9"/>
<text x="50.70" y="461.86" font-size="8.9" fill="#000" stroke="#000" stroke-width="0.12" text-anchor="end">88</text>
<line x1="53.60" y1="476.84" x2="57.60" y2="476.84" stroke="#000" stroke-width="0.9"/>
<text x="50.70" y="479.94" font-size="8.9" fill="#000" stroke="#000" stroke-width="0.12" text-anchor="end">8</text>
<line x1="53.60" y1="484.78" x2="55.60" y2="484.78" stroke="#000" stroke-width="0.9"/>
<line x1="53.60" y1="492.72" x2="57.60" y2="492.72" stroke="#000" stroke-width="0.9"/>
<text x="50.70" y="495.82" font-size="8.9" fill="#000" stroke="#000" stroke-width="0.12" text-anchor="end">4</text>
<line x1="53.60" y1="500.66" x2="55.60" y2="500.66" stroke="#000" stroke-width="0.9"/>
<line x1="53.60" y1="508.60" x2="57.60" y2="508.60" stroke="#000" stroke-width="0.9"/>
<text x="50.70" y="509.60" font-size="8.9" fill="#000" stroke="#000" stroke-width="0.12" text-anchor="end">0</text>
<polygon points="49.40,467.30 57.80,466.00 57.80,468.20 49.40,469.10" fill="#fff"/>
<line x1="49.40" y1="467.30" x2="57.80" y2="466.00" stroke="#000" stroke-width="0.8"/>
<line x1="49.40" y1="469.10" x2="57.80" y2="468.20" stroke="#000" stroke-width="0.8"/>
<polygon points="307.80,467.30 316.20,466.00 316.20,468.20 307.80,469.10" fill="#fff"/>
<line x1="307.80" y1="467.30" x2="316.20" y2="466.00" stroke="#000" stroke-width="0.8"/>
<line x1="307.80" y1="469.10" x2="316.20" y2="468.20" stroke="#000" stroke-width="0.8"/>
<text x="180.00" y="415.00" font-size="9.0" fill="#2D4A8E" stroke="#2D4A8E" stroke-width="0.12" text-anchor="middle">Swin transformer+ImageNet100 +Adam</text>
<text x="84.00" y="517.80" font-size="7.8" fill="#000" stroke="#000" stroke-width="0.12" text-anchor="middle">Original</text>
<text x="118.50" y="517.80" font-size="7.8" fill="#000" stroke="#000" stroke-width="0.12" text-anchor="middle">EaPU1</text>
<text x="152.50" y="517.80" font-size="7.8" fill="#000" stroke="#000" stroke-width="0.12" text-anchor="middle">EaPU2</text>
<text x="212.80" y="517.80" font-size="7.8" fill="#000" stroke="#000" stroke-width="0.12" text-anchor="middle">Original</text>
<text x="212.80" y="526.40" font-size="7.8" fill="#000" stroke="#000" stroke-width="0.12" text-anchor="middle">+ noise</text>
<text x="247.50" y="517.80" font-size="7.8" fill="#000" stroke="#000" stroke-width="0.12" text-anchor="middle">EaPU1</text>
<text x="247.50" y="526.40" font-size="7.8" fill="#000" stroke="#000" stroke-width="0.12" text-anchor="middle">+ noise</text>
<text x="282.00" y="517.80" font-size="7.8" fill="#000" stroke="#000" stroke-width="0.12" text-anchor="middle">EaPU2</text>
<text x="282.00" y="526.40" font-size="7.8" fill="#000" stroke="#000" stroke-width="0.12" text-anchor="middle">+ noise</text>
<line x1="203.00" y1="449.60" x2="265.00" y2="449.60" stroke="#FF2A2A" stroke-width="1.6" stroke-dasharray="5,3.2"/>
<line x1="212.40" y1="490.00" x2="212.40" y2="457.60" stroke="#FF2A2A" stroke-width="1.5"/>
<polygon points="212.40,451.60 215.20,458.60 209.60,458.60" fill="#FF2A2A"/>
<text x="194.40" y="475.60" font-size="9.0" fill="#FF2A2A" stroke="#FF2A2A" stroke-width="0.12" text-anchor="middle">88.78%</text>
<text x="33.80" y="337.00" font-size="8.8" fill="#000" stroke="#000" stroke-width="0.12" text-anchor="middle" transform="rotate(-90 33.80 337.00)">Accuracy(%)</text>
<text x="34.10" y="461.50" font-size="8.8" fill="#000" stroke="#000" stroke-width="0.12" text-anchor="middle" transform="rotate(-90 34.10 461.50)">Accuracy(%)</text>
<text x="350.40" y="284.60" font-size="16.5" fill="#000" stroke="#000" stroke-width="0.12" text-anchor="start">d</text>
<line x1="388.00" y1="504.20" x2="392.00" y2="504.20" stroke="#4DB8F5" stroke-width="1"/>
<text x="383.20" y="507.20" font-size="8.5" fill="#4DB8F5" stroke="#4DB8F5" stroke-width="0.12" text-anchor="end">0.0</text>
<line x1="388.00" y1="490.01" x2="390.00" y2="490.01" stroke="#4DB8F5" stroke-width="1"/>
<line x1="388.00" y1="475.83" x2="392.00" y2="475.83" stroke="#4DB8F5" stroke-width="1"/>
<text x="383.20" y="478.83" font-size="8.5" fill="#4DB8F5" stroke="#4DB8F5" stroke-width="0.12" text-anchor="end">0.2</text>
<line x1="388.00" y1="461.64" x2="390.00" y2="461.64" stroke="#4DB8F5" stroke-width="1"/>
<line x1="388.00" y1="447.46" x2="392.00" y2="447.46" stroke="#4DB8F5" stroke-width="1"/>
<text x="383.20" y="450.46" font-size="8.5" fill="#4DB8F5" stroke="#4DB8F5" stroke-width="0.12" text-anchor="end">0.4</text>
<line x1="388.00" y1="433.27" x2="390.00" y2="433.27" stroke="#4DB8F5" stroke-width="1"/>
<line x1="388.00" y1="419.08" x2="392.00" y2="419.08" stroke="#4DB8F5" stroke-width="1"/>
<text x="383.20" y="422.08" font-size="8.5" fill="#4DB8F5" stroke="#4DB8F5" stroke-width="0.12" text-anchor="end">0.6</text>
<line x1="388.00" y1="404.90" x2="390.00" y2="404.90" stroke="#4DB8F5" stroke-width="1"/>
<line x1="388.00" y1="390.71" x2="392.00" y2="390.71" stroke="#4DB8F5" stroke-width="1"/>
<text x="383.20" y="393.71" font-size="8.5" fill="#4DB8F5" stroke="#4DB8F5" stroke-width="0.12" text-anchor="end">0.8</text>
<line x1="388.00" y1="376.53" x2="390.00" y2="376.53" stroke="#4DB8F5" stroke-width="1"/>
<line x1="388.00" y1="362.34" x2="392.00" y2="362.34" stroke="#4DB8F5" stroke-width="1"/>
<text x="383.20" y="365.34" font-size="8.5" fill="#4DB8F5" stroke="#4DB8F5" stroke-width="0.12" text-anchor="end">1.0</text>
<line x1="388.00" y1="348.15" x2="390.00" y2="348.15" stroke="#4DB8F5" stroke-width="1"/>
<line x1="388.00" y1="333.97" x2="392.00" y2="333.97" stroke="#4DB8F5" stroke-width="1"/>
<text x="383.20" y="336.97" font-size="8.5" fill="#4DB8F5" stroke="#4DB8F5" stroke-width="0.12" text-anchor="end">1.2</text>
<line x1="388.00" y1="319.78" x2="390.00" y2="319.78" stroke="#4DB8F5" stroke-width="1"/>
<line x1="388.00" y1="305.60" x2="392.00" y2="305.60" stroke="#4DB8F5" stroke-width="1"/>
<text x="383.20" y="308.60" font-size="8.5" fill="#4DB8F5" stroke="#4DB8F5" stroke-width="0.12" text-anchor="end">1.4</text>
<line x1="654.30" y1="486.40" x2="650.30" y2="486.40" stroke="#FF6E6E" stroke-width="1"/>
<text x="659.20" y="489.40" font-size="8.5" fill="#FF6E6E" stroke="#FF6E6E" stroke-width="0.12" text-anchor="start">10</text>
<line x1="654.30" y1="468.68" x2="652.30" y2="468.68" stroke="#FF6E6E" stroke-width="1"/>
<line x1="654.30" y1="450.96" x2="650.30" y2="450.96" stroke="#FF6E6E" stroke-width="1"/>
<text x="659.20" y="453.96" font-size="8.5" fill="#FF6E6E" stroke="#FF6E6E" stroke-width="0.12" text-anchor="start">20</text>
<line x1="654.30" y1="433.24" x2="652.30" y2="433.24" stroke="#FF6E6E" stroke-width="1"/>
<line x1="654.30" y1="415.52" x2="650.30" y2="415.52" stroke="#FF6E6E" stroke-width="1"/>
<text x="659.20" y="418.52" font-size="8.5" fill="#FF6E6E" stroke="#FF6E6E" stroke-width="0.12" text-anchor="start">30</text>
<line x1="654.30" y1="397.80" x2="652.30" y2="397.80" stroke="#FF6E6E" stroke-width="1"/>
<line x1="654.30" y1="380.08" x2="650.30" y2="380.08" stroke="#FF6E6E" stroke-width="1"/>
<text x="659.20" y="383.08" font-size="8.5" fill="#FF6E6E" stroke="#FF6E6E" stroke-width="0.12" text-anchor="start">40</text>
<line x1="654.30" y1="362.36" x2="652.30" y2="362.36" stroke="#FF6E6E" stroke-width="1"/>
<line x1="654.30" y1="344.64" x2="650.30" y2="344.64" stroke="#FF6E6E" stroke-width="1"/>
<text x="659.20" y="347.64" font-size="8.5" fill="#FF6E6E" stroke="#FF6E6E" stroke-width="0.12" text-anchor="start">50</text>
<line x1="654.30" y1="326.92" x2="652.30" y2="326.92" stroke="#FF6E6E" stroke-width="1"/>
<line x1="654.30" y1="309.20" x2="650.30" y2="309.20" stroke="#FF6E6E" stroke-width="1"/>
<text x="659.20" y="312.20" font-size="8.5" fill="#FF6E6E" stroke="#FF6E6E" stroke-width="0.12" text-anchor="start">60</text>
<line x1="410.00" y1="504.20" x2="410.00" y2="500.20" stroke="#000" stroke-width="1"/>
<text x="410.00" y="516.00" font-size="8.5" fill="#000" stroke="#000" stroke-width="0.12" text-anchor="middle">0</text>
<line x1="432.20" y1="504.20" x2="432.20" y2="502.20" stroke="#000" stroke-width="1"/>
<line x1="454.40" y1="504.20" x2="454.40" y2="500.20" stroke="#000" stroke-width="1"/>
<text x="454.40" y="516.00" font-size="8.5" fill="#000" stroke="#000" stroke-width="0.12" text-anchor="middle">20</text>
<line x1="476.60" y1="504.20" x2="476.60" y2="502.20" stroke="#000" stroke-width="1"/>
<line x1="498.80" y1="504.20" x2="498.80" y2="500.20" stroke="#000" stroke-width="1"/>
<text x="498.80" y="516.00" font-size="8.5" fill="#000" stroke="#000" stroke-width="0.12" text-anchor="middle">40</text>
<line x1="521.00" y1="504.20" x2="521.00" y2="502.20" stroke="#000" stroke-width="1"/>
<line x1="543.20" y1="504.20" x2="543.20" y2="500.20" stroke="#000" stroke-width="1"/>
<text x="543.20" y="516.00" font-size="8.5" fill="#000" stroke="#000" stroke-width="0.12" text-anchor="middle">60</text>
<line x1="565.40" y1="504.20" x2="565.40" y2="502.20" stroke="#000" stroke-width="1"/>
<line x1="587.60" y1="504.20" x2="587.60" y2="500.20" stroke="#000" stroke-width="1"/>
<text x="587.60" y="516.00" font-size="8.5" fill="#000" stroke="#000" stroke-width="0.12" text-anchor="middle">80</text>
<line x1="609.80" y1="504.20" x2="609.80" y2="502.20" stroke="#000" stroke-width="1"/>
<line x1="632.00" y1="504.20" x2="632.00" y2="500.20" stroke="#000" stroke-width="1"/>
<text x="632.00" y="516.00" font-size="8.5" fill="#000" stroke="#000" stroke-width="0.12" text-anchor="middle">100</text>
<line x1="388.00" y1="291.50" x2="654.30" y2="291.50" stroke="#000" stroke-width="1.1"/>
<line x1="388.00" y1="504.20" x2="654.30" y2="504.20" stroke="#000" stroke-width="1.2"/>
<line x1="388.00" y1="290.90" x2="388.00" y2="504.80" stroke="#4DB8F5" stroke-width="1.2"/>
<line x1="654.30" y1="290.90" x2="654.30" y2="504.80" stroke="#FF6E6E" stroke-width="1.2"/>
<line x1="392.30" y1="306.50" x2="648.00" y2="306.50" stroke="#3A86C6" stroke-width="1.6" stroke-dasharray="4.6,6.4"/>
<text x="390.00" y="303.40" font-size="9" fill="#2D4A8E" stroke="#2D4A8E" stroke-width="0.12" text-anchor="start">Software (ideal) accuracy</text>
<polyline points="412.22,451.10 414.44,434.40 416.66,422.10 418.88,411.10 421.10,393.80 423.32,388.50 425.54,380.70 427.76,366.20 429.98,365.50 432.20,362.20 434.42,359.50 436.64,353.90 438.86,355.70 441.08,345.90 443.30,344.90 445.52,334.70 447.74,337.40 449.96,333.60 452.18,331.70 454.40,332.60 456.62,331.40 458.84,319.60 461.06,326.10 463.28,325.60 465.50,326.80 467.72,332.10 469.94,321.10 472.16,329.40 474.38,329.40 476.60,320.10 478.82,321.90 481.04,329.10 483.26,326.10 485.48,308.80 487.70,327.60 489.92,332.40 492.14,330.60 494.36,336.60 496.58,328.60 498.80,322.50 501.02,333.70 503.24,335.60 505.46,336.10 507.68,328.10 509.90,338.80 512.12,346.30 514.34,346.60 516.56,337.60 518.78,348.40 521.00,335.80 523.22,374.40 525.44,366.90 527.66,362.10 529.88,366.20 532.10,371.70 534.32,375.20 536.54,375.90 538.76,369.90 540.98,379.20 543.20,385.40 545.42,375.90 547.64,381.20 549.86,392.50 552.08,390.20 554.30,388.00 556.52,382.40 558.74,397.70 560.96,396.20 563.18,389.80 565.40,395.80 567.62,400.50 569.84,405.50 572.06,405.80 574.28,406.80 576.50,417.50 578.72,416.80 580.94,414.10 583.16,415.60 585.38,432.60 587.60,431.80 589.82,425.30 592.04,429.10 594.26,442.90 596.48,436.90 598.70,441.10 600.92,438.40 603.14,451.70 605.36,448.20 607.58,449.10 609.80,462.90 612.02,461.90 614.24,461.90 616.46,460.70 618.68,473.50 620.90,471.50 623.12,472.40 625.34,471.20 627.56,481.70 629.78,481.70 632.00,481.70" fill="none" stroke="#4DB6F6" stroke-width="1" stroke-linejoin="round"/>
<circle cx="412.22" cy="451.10" r="2.6" fill="#4DB6F6"/>
<circle cx="414.44" cy="434.40" r="2.6" fill="#4DB6F6"/>
<circle cx="416.66" cy="422.10" r="2.6" fill="#4DB6F6"/>
<circle cx="418.88" cy="411.10" r="2.6" fill="#4DB6F6"/>
<circle cx="421.10" cy="393.80" r="2.6" fill="#4DB6F6"/>
<circle cx="423.32" cy="388.50" r="2.6" fill="#4DB6F6"/>
<circle cx="425.54" cy="380.70" r="2.6" fill="#4DB6F6"/>
<circle cx="427.76" cy="366.20" r="2.6" fill="#4DB6F6"/>
<circle cx="429.98" cy="365.50" r="2.6" fill="#4DB6F6"/>
<circle cx="432.20" cy="362.20" r="2.6" fill="#4DB6F6"/>
<circle cx="434.42" cy="359.50" r="2.6" fill="#4DB6F6"/>
<circle cx="436.64" cy="353.90" r="2.6" fill="#4DB6F6"/>
<circle cx="438.86" cy="355.70" r="2.6" fill="#4DB6F6"/>
<circle cx="441.08" cy="345.90" r="2.6" fill="#4DB6F6"/>
<circle cx="443.30" cy="344.90" r="2.6" fill="#4DB6F6"/>
<circle cx="445.52" cy="334.70" r="2.6" fill="#4DB6F6"/>
<circle cx="447.74" cy="337.40" r="2.6" fill="#4DB6F6"/>
<circle cx="449.96" cy="333.60" r="2.6" fill="#4DB6F6"/>
<circle cx="452.18" cy="331.70" r="2.6" fill="#4DB6F6"/>
<circle cx="454.40" cy="332.60" r="2.6" fill="#4DB6F6"/>
<circle cx="456.62" cy="331.40" r="2.6" fill="#4DB6F6"/>
<circle cx="458.84" cy="319.60" r="2.6" fill="#4DB6F6"/>
<circle cx="461.06" cy="326.10" r="2.6" fill="#4DB6F6"/>
<circle cx="463.28" cy="325.60" r="2.6" fill="#4DB6F6"/>
<circle cx="465.50" cy="326.80" r="2.6" fill="#4DB6F6"/>
<circle cx="467.72" cy="332.10" r="2.6" fill="#4DB6F6"/>
<circle cx="469.94" cy="321.10" r="2.6" fill="#4DB6F6"/>
<circle cx="472.16" cy="329.40" r="2.6" fill="#4DB6F6"/>
<circle cx="474.38" cy="329.40" r="2.6" fill="#4DB6F6"/>
<circle cx="476.60" cy="320.10" r="2.6" fill="#4DB6F6"/>
<circle cx="478.82" cy="321.90" r="2.6" fill="#4DB6F6"/>
<circle cx="481.04" cy="329.10" r="2.6" fill="#4DB6F6"/>
<circle cx="483.26" cy="326.10" r="2.6" fill="#4DB6F6"/>
<circle cx="485.48" cy="308.80" r="2.6" fill="#4DB6F6"/>
<circle cx="487.70" cy="327.60" r="2.6" fill="#4DB6F6"/>
<circle cx="489.92" cy="332.40" r="2.6" fill="#4DB6F6"/>
<circle cx="492.14" cy="330.60" r="2.6" fill="#4DB6F6"/>
<circle cx="494.36" cy="336.60" r="2.6" fill="#4DB6F6"/>
<circle cx="496.58" cy="328.60" r="2.6" fill="#4DB6F6"/>
<circle cx="498.80" cy="322.50" r="2.6" fill="#4DB6F6"/>
<circle cx="501.02" cy="333.70" r="2.6" fill="#4DB6F6"/>
<circle cx="503.24" cy="335.60" r="2.6" fill="#4DB6F6"/>
<circle cx="505.46" cy="336.10" r="2.6" fill="#4DB6F6"/>
<circle cx="507.68" cy="328.10" r="2.6" fill="#4DB6F6"/>
<circle cx="509.90" cy="338.80" r="2.6" fill="#4DB6F6"/>
<circle cx="512.12" cy="346.30" r="2.6" fill="#4DB6F6"/>
<circle cx="514.34" cy="346.60" r="2.6" fill="#4DB6F6"/>
<circle cx="516.56" cy="337.60" r="2.6" fill="#4DB6F6"/>
<circle cx="518.78" cy="348.40" r="2.6" fill="#4DB6F6"/>
<circle cx="521.00" cy="335.80" r="2.6" fill="#4DB6F6"/>
<circle cx="523.22" cy="374.40" r="2.6" fill="#4DB6F6"/>
<circle cx="525.44" cy="366.90" r="2.6" fill="#4DB6F6"/>
<circle cx="527.66" cy="362.10" r="2.6" fill="#4DB6F6"/>
<circle cx="529.88" cy="366.20" r="2.6" fill="#4DB6F6"/>
<circle cx="532.10" cy="371.70" r="2.6" fill="#4DB6F6"/>
<circle cx="534.32" cy="375.20" r="2.6" fill="#4DB6F6"/>
<circle cx="536.54" cy="375.90" r="2.6" fill="#4DB6F6"/>
<circle cx="538.76" cy="369.90" r="2.6" fill="#4DB6F6"/>
<circle cx="540.98" cy="379.20" r="2.6" fill="#4DB6F6"/>
<circle cx="543.20" cy="385.40" r="2.6" fill="#4DB6F6"/>
<circle cx="545.42" cy="375.90" r="2.6" fill="#4DB6F6"/>
<circle cx="547.64" cy="381.20" r="2.6" fill="#4DB6F6"/>
<circle cx="549.86" cy="392.50" r="2.6" fill="#4DB6F6"/>
<circle cx="552.08" cy="390.20" r="2.6" fill="#4DB6F6"/>
<circle cx="554.30" cy="388.00" r="2.6" fill="#4DB6F6"/>
<circle cx="556.52" cy="382.40" r="2.6" fill="#4DB6F6"/>
<circle cx="558.74" cy="397.70" r="2.6" fill="#4DB6F6"/>
<circle cx="560.96" cy="396.20" r="2.6" fill="#4DB6F6"/>
<circle cx="563.18" cy="389.80" r="2.6" fill="#4DB6F6"/>
<circle cx="565.40" cy="395.80" r="2.6" fill="#4DB6F6"/>
<circle cx="567.62" cy="400.50" r="2.6" fill="#4DB6F6"/>
<circle cx="569.84" cy="405.50" r="2.6" fill="#4DB6F6"/>
<circle cx="572.06" cy="405.80" r="2.6" fill="#4DB6F6"/>
<circle cx="574.28" cy="406.80" r="2.6" fill="#4DB6F6"/>
<circle cx="576.50" cy="417.50" r="2.6" fill="#4DB6F6"/>
<circle cx="578.72" cy="416.80" r="2.6" fill="#4DB6F6"/>
<circle cx="580.94" cy="414.10" r="2.6" fill="#4DB6F6"/>
<circle cx="583.16" cy="415.60" r="2.6" fill="#4DB6F6"/>
<circle cx="585.38" cy="432.60" r="2.6" fill="#4DB6F6"/>
<circle cx="587.60" cy="431.80" r="2.6" fill="#4DB6F6"/>
<circle cx="589.82" cy="425.30" r="2.6" fill="#4DB6F6"/>
<circle cx="592.04" cy="429.10" r="2.6" fill="#4DB6F6"/>
<circle cx="594.26" cy="442.90" r="2.6" fill="#4DB6F6"/>
<circle cx="596.48" cy="436.90" r="2.6" fill="#4DB6F6"/>
<circle cx="598.70" cy="441.10" r="2.6" fill="#4DB6F6"/>
<circle cx="600.92" cy="438.40" r="2.6" fill="#4DB6F6"/>
<circle cx="603.14" cy="451.70" r="2.6" fill="#4DB6F6"/>
<circle cx="605.36" cy="448.20" r="2.6" fill="#4DB6F6"/>
<circle cx="607.58" cy="449.10" r="2.6" fill="#4DB6F6"/>
<circle cx="609.80" cy="462.90" r="2.6" fill="#4DB6F6"/>
<circle cx="612.02" cy="461.90" r="2.6" fill="#4DB6F6"/>
<circle cx="614.24" cy="461.90" r="2.6" fill="#4DB6F6"/>
<circle cx="616.46" cy="460.70" r="2.6" fill="#4DB6F6"/>
<circle cx="618.68" cy="473.50" r="2.6" fill="#4DB6F6"/>
<circle cx="620.90" cy="471.50" r="2.6" fill="#4DB6F6"/>
<circle cx="623.12" cy="472.40" r="2.6" fill="#4DB6F6"/>
<circle cx="625.34" cy="471.20" r="2.6" fill="#4DB6F6"/>
<circle cx="627.56" cy="481.70" r="2.6" fill="#4DB6F6"/>
<circle cx="629.78" cy="481.70" r="2.6" fill="#4DB6F6"/>
<circle cx="632.00" cy="481.70" r="2.6" fill="#4DB6F6"/>
<path d="M416.30,488.30 C417.67,484.78 421.62,475.22 424.50,467.20 C427.38,459.18 430.72,448.47 433.60,440.20 C436.48,431.93 439.55,422.62 441.80,417.60 C444.05,412.58 444.47,413.37 447.10,410.10 C449.73,406.83 455.03,401.48 457.60,398.00 C460.17,394.52 460.43,392.68 462.50,389.20 C464.57,385.72 467.48,380.37 470.00,377.10 C472.52,373.83 474.83,371.60 477.60,369.60 C480.37,367.60 483.35,367.23 486.60,365.10 C489.85,362.97 493.85,358.93 497.10,356.80 C500.35,354.67 503.08,354.30 506.10,352.30 C509.12,350.30 512.43,346.67 515.20,344.80 C517.97,342.93 520.20,342.10 522.70,341.10 C525.20,340.10 527.45,339.93 530.20,338.80 C532.95,337.67 536.20,335.93 539.20,334.30 C542.20,332.67 545.07,330.25 548.20,329.00 C551.33,327.75 555.08,327.25 558.00,326.80 C560.92,326.35 563.70,326.55 565.70,326.30 C567.70,326.05 567.78,326.22 570.00,325.30 C572.22,324.38 575.23,322.30 579.00,320.80 C582.77,319.30 588.83,316.97 592.60,316.30 C596.37,315.63 597.87,317.22 601.60,316.80 C605.33,316.38 610.75,314.83 615.00,313.80 C619.25,312.77 623.82,311.18 627.10,310.60 C630.38,310.02 633.43,310.35 634.70,310.30" fill="none" stroke="#F55454" stroke-width="1.15"/>
<text x="366.00" y="397.20" font-size="11" fill="#000" stroke="#000" stroke-width="0.12" text-anchor="middle" transform="rotate(-90 366.00 397.20)">ResNet152 update ratio (‰)</text>
<text x="683.70" y="397.40" font-size="11.2" fill="#000" stroke="#000" stroke-width="0.12" text-anchor="middle" transform="rotate(-90 683.70 397.40)">Validation accuracy (%)</text>
<text x="521.50" y="527.40" font-size="11.15" fill="#000" stroke="#000" stroke-width="0.12" text-anchor="middle">Iteration (x100)</text>
<text x="-0.50" y="543.50" font-size="16.5" fill="#000" stroke="#000" stroke-width="0.12" text-anchor="start">e</text>
<line x1="47.40" y1="753.40" x2="51.40" y2="753.40" stroke="#000" stroke-width="1"/>
<text x="42.80" y="756.40" font-size="8.5" fill="#000" stroke="#000" stroke-width="0.12" text-anchor="end">0</text>
<line x1="47.40" y1="736.03" x2="49.40" y2="736.03" stroke="#000" stroke-width="1"/>
<line x1="47.40" y1="718.66" x2="51.40" y2="718.66" stroke="#000" stroke-width="1"/>
<text x="42.80" y="721.66" font-size="8.5" fill="#000" stroke="#000" stroke-width="0.12" text-anchor="end">3</text>
<line x1="47.40" y1="701.29" x2="49.40" y2="701.29" stroke="#000" stroke-width="1"/>
<line x1="47.40" y1="683.92" x2="51.40" y2="683.92" stroke="#000" stroke-width="1"/>
<text x="42.80" y="686.92" font-size="8.5" fill="#000" stroke="#000" stroke-width="0.12" text-anchor="end">6</text>
<line x1="47.40" y1="666.55" x2="49.40" y2="666.55" stroke="#000" stroke-width="1"/>
<line x1="47.40" y1="649.18" x2="51.40" y2="649.18" stroke="#000" stroke-width="1"/>
<text x="42.80" y="652.18" font-size="8.5" fill="#000" stroke="#000" stroke-width="0.12" text-anchor="end">9</text>
<line x1="47.40" y1="631.81" x2="49.40" y2="631.81" stroke="#000" stroke-width="1"/>
<line x1="47.40" y1="614.44" x2="51.40" y2="614.44" stroke="#000" stroke-width="1"/>
<text x="42.80" y="617.44" font-size="8.5" fill="#000" stroke="#000" stroke-width="0.12" text-anchor="end">12</text>
<line x1="47.40" y1="597.07" x2="49.40" y2="597.07" stroke="#000" stroke-width="1"/>
<line x1="47.40" y1="579.70" x2="51.40" y2="579.70" stroke="#000" stroke-width="1"/>
<text x="42.80" y="582.70" font-size="8.5" fill="#000" stroke="#000" stroke-width="0.12" text-anchor="end">15</text>
<line x1="47.40" y1="562.33" x2="49.40" y2="562.33" stroke="#000" stroke-width="1"/>
<line x1="47.40" y1="544.96" x2="51.40" y2="544.96" stroke="#000" stroke-width="1"/>
<text x="42.80" y="547.96" font-size="8.5" fill="#000" stroke="#000" stroke-width="0.12" text-anchor="end">18</text>
<line x1="63.40" y1="765.00" x2="63.40" y2="761.00" stroke="#000" stroke-width="1"/>
<text x="63.40" y="777.60" font-size="8.5" fill="#000" stroke="#000" stroke-width="0.12" text-anchor="middle">0</text>
<line x1="79.55" y1="765.00" x2="79.55" y2="763.00" stroke="#000" stroke-width="1"/>
<line x1="95.70" y1="765.00" x2="95.70" y2="761.00" stroke="#000" stroke-width="1"/>
<text x="95.70" y="777.60" font-size="8.5" fill="#000" stroke="#000" stroke-width="0.12" text-anchor="middle">20</text>
<line x1="111.85" y1="765.00" x2="111.85" y2="763.00" stroke="#000" stroke-width="1"/>
<line x1="128.00" y1="765.00" x2="128.00" y2="761.00" stroke="#000" stroke-width="1"/>
<text x="128.00" y="777.60" font-size="8.5" fill="#000" stroke="#000" stroke-width="0.12" text-anchor="middle">40</text>
<line x1="144.15" y1="765.00" x2="144.15" y2="763.00" stroke="#000" stroke-width="1"/>
<line x1="160.30" y1="765.00" x2="160.30" y2="761.00" stroke="#000" stroke-width="1"/>
<text x="160.30" y="777.60" font-size="8.5" fill="#000" stroke="#000" stroke-width="0.12" text-anchor="middle">60</text>
<line x1="176.45" y1="765.00" x2="176.45" y2="763.00" stroke="#000" stroke-width="1"/>
<line x1="192.60" y1="765.00" x2="192.60" y2="761.00" stroke="#000" stroke-width="1"/>
<text x="192.60" y="777.60" font-size="8.5" fill="#000" stroke="#000" stroke-width="0.12" text-anchor="middle">80</text>
<line x1="208.75" y1="765.00" x2="208.75" y2="763.00" stroke="#000" stroke-width="1"/>
<line x1="224.90" y1="765.00" x2="224.90" y2="761.00" stroke="#000" stroke-width="1"/>
<text x="224.90" y="777.60" font-size="8.5" fill="#000" stroke="#000" stroke-width="0.12" text-anchor="middle">100</text>
<line x1="241.05" y1="765.00" x2="241.05" y2="763.00" stroke="#000" stroke-width="1"/>
<line x1="257.20" y1="765.00" x2="257.20" y2="761.00" stroke="#000" stroke-width="1"/>
<text x="257.20" y="777.60" font-size="8.5" fill="#000" stroke="#000" stroke-width="0.12" text-anchor="middle">120</text>
<line x1="273.35" y1="765.00" x2="273.35" y2="763.00" stroke="#000" stroke-width="1"/>
<line x1="289.50" y1="765.00" x2="289.50" y2="761.00" stroke="#000" stroke-width="1"/>
<text x="289.50" y="777.60" font-size="8.5" fill="#000" stroke="#000" stroke-width="0.12" text-anchor="middle">140</text>
<line x1="305.65" y1="765.00" x2="305.65" y2="763.00" stroke="#000" stroke-width="1"/>
<line x1="321.80" y1="765.00" x2="321.80" y2="761.00" stroke="#000" stroke-width="1"/>
<text x="321.80" y="777.60" font-size="8.5" fill="#000" stroke="#000" stroke-width="0.12" text-anchor="middle">160</text>
<rect x="47.4" y="545" width="274.20" height="220.00" fill="none" stroke="#000" stroke-width="1.2"/>
<polyline points="65.02,699.78 66.63,737.19 68.25,751.08 69.86,736.03 71.47,746.45 73.09,742.98 74.70,747.61 76.32,744.14 77.94,748.19 79.55,744.72 81.16,747.61 82.78,746.19 84.39,745.81 86.01,747.89 87.62,745.33 89.24,748.88 90.85,746.30 92.47,746.33 94.08,748.18 95.70,745.83 97.31,748.54 98.93,746.61 100.55,746.38 102.16,748.46 103.78,746.14 105.39,749.41 107.00,747.41 108.62,747.30 110.23,748.70 111.85,746.58 113.47,749.16 115.08,747.36 116.69,747.37 118.31,749.28 119.92,746.39 121.54,750.14 123.16,748.35 124.77,748.31 126.38,749.54 128.00,747.30 129.62,750.26 131.23,748.78 132.84,748.07 134.46,750.01 136.07,747.61 137.69,750.66 139.31,748.67 140.92,748.59 142.53,750.04 144.15,747.69 145.76,750.55 147.38,748.58 149.00,748.23 150.61,749.41 152.22,747.47 153.84,750.13 155.45,748.38 157.07,748.45 158.69,749.85 160.30,747.28 161.91,750.68 163.53,748.60 165.15,748.31 166.76,750.15 168.38,747.53 169.99,750.02 171.60,748.77 173.22,748.31 174.84,749.49 176.45,748.29 178.06,750.38 179.68,748.96 181.29,748.31 182.91,749.54 184.53,747.77 186.14,750.35 187.75,748.68 189.37,748.54 190.98,749.69 192.60,748.43 194.22,750.88 195.83,749.46 197.44,748.93 199.06,750.28 200.68,747.98 202.29,750.42 203.91,749.08 205.52,748.77 207.13,749.79 208.75,748.42 210.37,750.96 211.98,749.00 213.59,748.75 215.21,750.00 216.83,748.49 218.44,750.37 220.06,749.75 221.67,748.85 223.28,750.28 224.90,749.03 226.52,750.76 228.13,749.21 229.75,749.44 231.36,749.88 232.97,748.30 234.59,750.57 236.21,749.61 237.82,749.27 239.44,749.97 241.05,748.61 242.66,750.48 244.28,749.45 245.90,749.74 247.51,750.52 249.12,749.20 250.74,750.39 252.36,749.84 253.97,749.37 255.59,750.69 257.20,749.49 258.81,750.85 260.43,749.57 262.05,749.35 263.66,750.12 265.27,749.39 266.89,750.65 268.50,749.84 270.12,749.65 271.74,750.68 273.35,748.94 274.96,750.96 276.58,749.44 278.19,749.30 279.81,750.82 281.43,749.46 283.04,750.41 284.65,749.53 286.27,749.84 287.88,750.63 289.50,749.80 291.12,750.32 292.73,750.31 294.34,750.50 295.96,750.85 297.57,745.29 299.19,748.19 300.81,748.77 302.42,747.03 304.03,748.19 305.65,748.77 307.26,747.61 308.88,681.60" fill="none" stroke="#8A8A8A" stroke-width="0.9" stroke-linejoin="round"/>
<g fill="#555555"><rect x="63.91" y="698.68" width="2.2" height="2.2"/><rect x="65.53" y="736.09" width="2.2" height="2.2"/><rect x="67.15" y="749.98" width="2.2" height="2.2"/><rect x="68.76" y="734.93" width="2.2" height="2.2"/><rect x="70.38" y="745.35" width="2.2" height="2.2"/><rect x="71.99" y="741.88" width="2.2" height="2.2"/><rect x="73.61" y="746.51" width="2.2" height="2.2"/><rect x="75.22" y="743.04" width="2.2" height="2.2"/><rect x="76.84" y="747.09" width="2.2" height="2.2"/><rect x="78.45" y="743.62" width="2.2" height="2.2"/><rect x="80.06" y="746.51" width="2.2" height="2.2"/><rect x="81.68" y="745.09" width="2.2" height="2.2"/><rect x="83.30" y="744.71" width="2.2" height="2.2"/><rect x="84.91" y="746.79" width="2.2" height="2.2"/><rect x="86.53" y="744.23" width="2.2" height="2.2"/><rect x="88.14" y="747.78" width="2.2" height="2.2"/><rect x="89.75" y="745.20" width="2.2" height="2.2"/><rect x="91.37" y="745.23" width="2.2" height="2.2"/><rect x="92.98" y="747.08" width="2.2" height="2.2"/><rect x="94.60" y="744.73" width="2.2" height="2.2"/><rect x="96.22" y="747.44" width="2.2" height="2.2"/><rect x="97.83" y="745.51" width="2.2" height="2.2"/><rect x="99.45" y="745.28" width="2.2" height="2.2"/><rect x="101.06" y="747.36" width="2.2" height="2.2"/><rect x="102.68" y="745.04" width="2.2" height="2.2"/><rect x="104.29" y="748.31" width="2.2" height="2.2"/><rect x="105.91" y="746.31" width="2.2" height="2.2"/><rect x="107.52" y="746.20" width="2.2" height="2.2"/><rect x="109.14" y="747.60" width="2.2" height="2.2"/><rect x="110.75" y="745.48" width="2.2" height="2.2"/><rect x="112.37" y="748.06" width="2.2" height="2.2"/><rect x="113.98" y="746.26" width="2.2" height="2.2"/><rect x="115.59" y="746.27" width="2.2" height="2.2"/><rect x="117.21" y="748.18" width="2.2" height="2.2"/><rect x="118.83" y="745.29" width="2.2" height="2.2"/><rect x="120.44" y="749.04" width="2.2" height="2.2"/><rect x="122.06" y="747.25" width="2.2" height="2.2"/><rect x="123.67" y="747.21" width="2.2" height="2.2"/><rect x="125.28" y="748.44" width="2.2" height="2.2"/><rect x="126.90" y="746.20" width="2.2" height="2.2"/><rect x="128.52" y="749.16" width="2.2" height="2.2"/><rect x="130.13" y="747.68" width="2.2" height="2.2"/><rect x="131.75" y="746.97" width="2.2" height="2.2"/><rect x="133.36" y="748.91" width="2.2" height="2.2"/><rect x="134.97" y="746.51" width="2.2" height="2.2"/><rect x="136.59" y="749.56" width="2.2" height="2.2"/><rect x="138.21" y="747.57" width="2.2" height="2.2"/><rect x="139.82" y="747.49" width="2.2" height="2.2"/><rect x="141.44" y="748.94" width="2.2" height="2.2"/><rect x="143.05" y="746.59" width="2.2" height="2.2"/><rect x="144.66" y="749.45" width="2.2" height="2.2"/><rect x="146.28" y="747.48" width="2.2" height="2.2"/><rect x="147.90" y="747.13" width="2.2" height="2.2"/><rect x="149.51" y="748.31" width="2.2" height="2.2"/><rect x="151.12" y="746.37" width="2.2" height="2.2"/><rect x="152.74" y="749.03" width="2.2" height="2.2"/><rect x="154.35" y="747.28" width="2.2" height="2.2"/><rect x="155.97" y="747.35" width="2.2" height="2.2"/><rect x="157.59" y="748.75" width="2.2" height="2.2"/><rect x="159.20" y="746.18" width="2.2" height="2.2"/><rect x="160.81" y="749.58" width="2.2" height="2.2"/><rect x="162.43" y="747.50" width="2.2" height="2.2"/><rect x="164.05" y="747.21" width="2.2" height="2.2"/><rect x="165.66" y="749.05" width="2.2" height="2.2"/><rect x="167.28" y="746.43" width="2.2" height="2.2"/><rect x="168.89" y="748.92" width="2.2" height="2.2"/><rect x="170.50" y="747.67" width="2.2" height="2.2"/><rect x="172.12" y="747.21" width="2.2" height="2.2"/><rect x="173.74" y="748.39" width="2.2" height="2.2"/><rect x="175.35" y="747.19" width="2.2" height="2.2"/><rect x="176.97" y="749.28" width="2.2" height="2.2"/><rect x="178.58" y="747.86" width="2.2" height="2.2"/><rect x="180.19" y="747.21" width="2.2" height="2.2"/><rect x="181.81" y="748.44" width="2.2" height="2.2"/><rect x="183.43" y="746.67" width="2.2" height="2.2"/><rect x="185.04" y="749.25" width="2.2" height="2.2"/><rect x="186.66" y="747.58" width="2.2" height="2.2"/><rect x="188.27" y="747.44" width="2.2" height="2.2"/><rect x="189.88" y="748.59" width="2.2" height="2.2"/><rect x="191.50" y="747.33" width="2.2" height="2.2"/><rect x="193.12" y="749.78" width="2.2" height="2.2"/><rect x="194.73" y="748.36" width="2.2" height="2.2"/><rect x="196.34" y="747.83" width="2.2" height="2.2"/><rect x="197.96" y="749.18" width="2.2" height="2.2"/><rect x="199.58" y="746.88" width="2.2" height="2.2"/><rect x="201.19" y="749.32" width="2.2" height="2.2"/><rect x="202.81" y="747.98" width="2.2" height="2.2"/><rect x="204.42" y="747.67" width="2.2" height="2.2"/><rect x="206.03" y="748.69" width="2.2" height="2.2"/><rect x="207.65" y="747.32" width="2.2" height="2.2"/><rect x="209.27" y="749.86" width="2.2" height="2.2"/><rect x="210.88" y="747.90" width="2.2" height="2.2"/><rect x="212.50" y="747.65" width="2.2" height="2.2"/><rect x="214.11" y="748.90" width="2.2" height="2.2"/><rect x="215.73" y="747.39" width="2.2" height="2.2"/><rect x="217.34" y="749.27" width="2.2" height="2.2"/><rect x="218.96" y="748.65" width="2.2" height="2.2"/><rect x="220.57" y="747.75" width="2.2" height="2.2"/><rect x="222.19" y="749.18" width="2.2" height="2.2"/><rect x="223.80" y="747.93" width="2.2" height="2.2"/><rect x="225.42" y="749.66" width="2.2" height="2.2"/><rect x="227.03" y="748.11" width="2.2" height="2.2"/><rect x="228.65" y="748.34" width="2.2" height="2.2"/><rect x="230.26" y="748.78" width="2.2" height="2.2"/><rect x="231.88" y="747.20" width="2.2" height="2.2"/><rect x="233.49" y="749.47" width="2.2" height="2.2"/><rect x="235.11" y="748.51" width="2.2" height="2.2"/><rect x="236.72" y="748.17" width="2.2" height="2.2"/><rect x="238.34" y="748.87" width="2.2" height="2.2"/><rect x="239.95" y="747.51" width="2.2" height="2.2"/><rect x="241.56" y="749.38" width="2.2" height="2.2"/><rect x="243.18" y="748.35" width="2.2" height="2.2"/><rect x="244.80" y="748.64" width="2.2" height="2.2"/><rect x="246.41" y="749.42" width="2.2" height="2.2"/><rect x="248.03" y="748.10" width="2.2" height="2.2"/><rect x="249.64" y="749.29" width="2.2" height="2.2"/><rect x="251.26" y="748.74" width="2.2" height="2.2"/><rect x="252.87" y="748.27" width="2.2" height="2.2"/><rect x="254.49" y="749.59" width="2.2" height="2.2"/><rect x="256.10" y="748.39" width="2.2" height="2.2"/><rect x="257.71" y="749.75" width="2.2" height="2.2"/><rect x="259.33" y="748.47" width="2.2" height="2.2"/><rect x="260.94" y="748.25" width="2.2" height="2.2"/><rect x="262.56" y="749.02" width="2.2" height="2.2"/><rect x="264.17" y="748.29" width="2.2" height="2.2"/><rect x="265.79" y="749.55" width="2.2" height="2.2"/><rect x="267.40" y="748.74" width="2.2" height="2.2"/><rect x="269.02" y="748.55" width="2.2" height="2.2"/><rect x="270.63" y="749.58" width="2.2" height="2.2"/><rect x="272.25" y="747.84" width="2.2" height="2.2"/><rect x="273.86" y="749.86" width="2.2" height="2.2"/><rect x="275.48" y="748.34" width="2.2" height="2.2"/><rect x="277.09" y="748.20" width="2.2" height="2.2"/><rect x="278.71" y="749.72" width="2.2" height="2.2"/><rect x="280.32" y="748.36" width="2.2" height="2.2"/><rect x="281.94" y="749.31" width="2.2" height="2.2"/><rect x="283.55" y="748.43" width="2.2" height="2.2"/><rect x="285.17" y="748.74" width="2.2" height="2.2"/><rect x="286.78" y="749.53" width="2.2" height="2.2"/><rect x="288.40" y="748.70" width="2.2" height="2.2"/><rect x="290.01" y="749.22" width="2.2" height="2.2"/><rect x="291.63" y="749.21" width="2.2" height="2.2"/><rect x="293.24" y="749.40" width="2.2" height="2.2"/><rect x="294.86" y="749.75" width="2.2" height="2.2"/><rect x="296.47" y="744.19" width="2.2" height="2.2"/><rect x="298.09" y="747.09" width="2.2" height="2.2"/><rect x="299.70" y="747.67" width="2.2" height="2.2"/><rect x="301.32" y="745.93" width="2.2" height="2.2"/><rect x="302.93" y="747.09" width="2.2" height="2.2"/><rect x="304.55" y="747.67" width="2.2" height="2.2"/><rect x="306.16" y="746.51" width="2.2" height="2.2"/><rect x="307.78" y="680.50" width="2.2" height="2.2"/></g>
<polyline points="65.02,613.86 66.63,719.24 68.25,749.35 69.86,709.86 71.47,718.31 73.09,734.18 74.70,710.79 76.32,736.03 77.94,724.45 79.55,717.50 81.16,713.91 82.78,736.03 84.39,727.92 86.01,726.30 87.62,729.08 89.24,737.19 90.85,725.84 92.47,736.96 94.08,734.87 95.70,738.35 97.31,742.98 98.93,738.35 100.55,740.66 102.16,737.19 103.78,741.82 105.39,736.61 107.00,740.08 108.62,741.82 110.23,736.03 111.85,739.50 113.47,740.66 115.08,735.45 116.69,738.35 118.31,739.50 119.92,734.87 121.54,736.61 123.16,738.35 124.77,733.71 126.38,736.03 128.00,737.77 129.62,732.56 131.23,735.45 132.84,737.19 134.46,731.98 136.07,734.87 137.69,736.61 139.31,732.56 140.92,735.45 142.53,737.19 144.15,733.13 145.76,734.87 147.38,736.03 149.00,731.98 150.61,734.87 152.22,736.61 153.84,733.71 155.45,736.03 157.07,738.35 158.69,735.45 160.30,739.50 161.91,737.77 163.53,737.19 165.15,738.74 166.76,738.24 168.38,740.36 169.99,737.30 171.60,741.04 173.22,739.21 174.84,738.45 176.45,739.80 178.06,738.75 179.68,740.97 181.29,739.09 182.91,737.97 184.53,739.97 186.14,737.77 187.75,741.29 189.37,739.37 190.98,738.81 192.60,739.96 194.22,737.75 195.83,741.55 197.44,739.81 199.06,739.09 200.68,740.96 202.29,738.52 203.91,741.02 205.52,739.79 207.13,739.51 208.75,740.79 210.37,738.79 211.98,741.14 213.59,738.93 215.21,738.67 216.83,740.74 218.44,738.55 220.06,741.07 221.67,740.28 223.28,738.48 224.90,740.46 226.52,738.31 228.13,740.98 229.75,739.91 231.36,739.29 232.97,741.49 234.59,738.75 236.21,742.08 237.82,740.46 239.44,739.66 241.05,741.49 242.66,739.27 244.28,742.18 245.90,740.66 247.51,739.85 249.12,741.67 250.74,739.35 252.36,742.30 253.97,739.54 255.59,739.31 257.20,741.69 258.81,739.62 260.43,741.93 262.05,740.35 263.66,740.10 265.27,740.80 266.89,738.70 268.50,741.85 270.12,740.29 271.74,740.26 273.35,741.93 274.96,739.71 276.58,742.21 278.19,739.91 279.81,740.27 281.43,742.13 283.04,738.98 284.65,741.93 286.27,740.96 287.88,739.84 289.50,742.21 291.12,739.67 292.73,741.39 294.34,745.29 295.96,748.54 297.57,739.50 299.19,731.98 300.81,737.19 302.42,730.82 304.03,733.71 305.65,737.19 307.26,734.87 308.88,687.86" fill="none" stroke="#F28C8C" stroke-width="0.9" stroke-linejoin="round"/>
<g fill="#EE4A4A"><rect x="63.91" y="612.76" width="2.2" height="2.2"/><rect x="65.53" y="718.14" width="2.2" height="2.2"/><rect x="67.15" y="748.25" width="2.2" height="2.2"/><rect x="68.76" y="708.76" width="2.2" height="2.2"/><rect x="70.38" y="717.21" width="2.2" height="2.2"/><rect x="71.99" y="733.08" width="2.2" height="2.2"/><rect x="73.61" y="709.69" width="2.2" height="2.2"/><rect x="75.22" y="734.93" width="2.2" height="2.2"/><rect x="76.84" y="723.35" width="2.2" height="2.2"/><rect x="78.45" y="716.40" width="2.2" height="2.2"/><rect x="80.06" y="712.81" width="2.2" height="2.2"/><rect x="81.68" y="734.93" width="2.2" height="2.2"/><rect x="83.30" y="726.82" width="2.2" height="2.2"/><rect x="84.91" y="725.20" width="2.2" height="2.2"/><rect x="86.53" y="727.98" width="2.2" height="2.2"/><rect x="88.14" y="736.09" width="2.2" height="2.2"/><rect x="89.75" y="724.74" width="2.2" height="2.2"/><rect x="91.37" y="735.86" width="2.2" height="2.2"/><rect x="92.98" y="733.77" width="2.2" height="2.2"/><rect x="94.60" y="737.25" width="2.2" height="2.2"/><rect x="96.22" y="741.88" width="2.2" height="2.2"/><rect x="97.83" y="737.25" width="2.2" height="2.2"/><rect x="99.45" y="739.56" width="2.2" height="2.2"/><rect x="101.06" y="736.09" width="2.2" height="2.2"/><rect x="102.68" y="740.72" width="2.2" height="2.2"/><rect x="104.29" y="735.51" width="2.2" height="2.2"/><rect x="105.91" y="738.98" width="2.2" height="2.2"/><rect x="107.52" y="740.72" width="2.2" height="2.2"/><rect x="109.14" y="734.93" width="2.2" height="2.2"/><rect x="110.75" y="738.40" width="2.2" height="2.2"/><rect x="112.37" y="739.56" width="2.2" height="2.2"/><rect x="113.98" y="734.35" width="2.2" height="2.2"/><rect x="115.59" y="737.25" width="2.2" height="2.2"/><rect x="117.21" y="738.40" width="2.2" height="2.2"/><rect x="118.83" y="733.77" width="2.2" height="2.2"/><rect x="120.44" y="735.51" width="2.2" height="2.2"/><rect x="122.06" y="737.25" width="2.2" height="2.2"/><rect x="123.67" y="732.61" width="2.2" height="2.2"/><rect x="125.28" y="734.93" width="2.2" height="2.2"/><rect x="126.90" y="736.67" width="2.2" height="2.2"/><rect x="128.52" y="731.46" width="2.2" height="2.2"/><rect x="130.13" y="734.35" width="2.2" height="2.2"/><rect x="131.75" y="736.09" width="2.2" height="2.2"/><rect x="133.36" y="730.88" width="2.2" height="2.2"/><rect x="134.97" y="733.77" width="2.2" height="2.2"/><rect x="136.59" y="735.51" width="2.2" height="2.2"/><rect x="138.21" y="731.46" width="2.2" height="2.2"/><rect x="139.82" y="734.35" width="2.2" height="2.2"/><rect x="141.44" y="736.09" width="2.2" height="2.2"/><rect x="143.05" y="732.03" width="2.2" height="2.2"/><rect x="144.66" y="733.77" width="2.2" height="2.2"/><rect x="146.28" y="734.93" width="2.2" height="2.2"/><rect x="147.90" y="730.88" width="2.2" height="2.2"/><rect x="149.51" y="733.77" width="2.2" height="2.2"/><rect x="151.12" y="735.51" width="2.2" height="2.2"/><rect x="152.74" y="732.61" width="2.2" height="2.2"/><rect x="154.35" y="734.93" width="2.2" height="2.2"/><rect x="155.97" y="737.25" width="2.2" height="2.2"/><rect x="157.59" y="734.35" width="2.2" height="2.2"/><rect x="159.20" y="738.40" width="2.2" height="2.2"/><rect x="160.81" y="736.67" width="2.2" height="2.2"/><rect x="162.43" y="736.09" width="2.2" height="2.2"/><rect x="164.05" y="737.64" width="2.2" height="2.2"/><rect x="165.66" y="737.14" width="2.2" height="2.2"/><rect x="167.28" y="739.26" width="2.2" height="2.2"/><rect x="168.89" y="736.20" width="2.2" height="2.2"/><rect x="170.50" y="739.94" width="2.2" height="2.2"/><rect x="172.12" y="738.11" width="2.2" height="2.2"/><rect x="173.74" y="737.35" width="2.2" height="2.2"/><rect x="175.35" y="738.70" width="2.2" height="2.2"/><rect x="176.97" y="737.65" width="2.2" height="2.2"/><rect x="178.58" y="739.87" width="2.2" height="2.2"/><rect x="180.19" y="737.99" width="2.2" height="2.2"/><rect x="181.81" y="736.87" width="2.2" height="2.2"/><rect x="183.43" y="738.87" width="2.2" height="2.2"/><rect x="185.04" y="736.67" width="2.2" height="2.2"/><rect x="186.66" y="740.19" width="2.2" height="2.2"/><rect x="188.27" y="738.27" width="2.2" height="2.2"/><rect x="189.88" y="737.71" width="2.2" height="2.2"/><rect x="191.50" y="738.86" width="2.2" height="2.2"/><rect x="193.12" y="736.65" width="2.2" height="2.2"/><rect x="194.73" y="740.45" width="2.2" height="2.2"/><rect x="196.34" y="738.71" width="2.2" height="2.2"/><rect x="197.96" y="737.99" width="2.2" height="2.2"/><rect x="199.58" y="739.86" width="2.2" height="2.2"/><rect x="201.19" y="737.42" width="2.2" height="2.2"/><rect x="202.81" y="739.92" width="2.2" height="2.2"/><rect x="204.42" y="738.69" width="2.2" height="2.2"/><rect x="206.03" y="738.41" width="2.2" height="2.2"/><rect x="207.65" y="739.69" width="2.2" height="2.2"/><rect x="209.27" y="737.69" width="2.2" height="2.2"/><rect x="210.88" y="740.04" width="2.2" height="2.2"/><rect x="212.50" y="737.83" width="2.2" height="2.2"/><rect x="214.11" y="737.57" width="2.2" height="2.2"/><rect x="215.73" y="739.64" width="2.2" height="2.2"/><rect x="217.34" y="737.45" width="2.2" height="2.2"/><rect x="218.96" y="739.97" width="2.2" height="2.2"/><rect x="220.57" y="739.18" width="2.2" height="2.2"/><rect x="222.19" y="737.38" width="2.2" height="2.2"/><rect x="223.80" y="739.36" width="2.2" height="2.2"/><rect x="225.42" y="737.21" width="2.2" height="2.2"/><rect x="227.03" y="739.88" width="2.2" height="2.2"/><rect x="228.65" y="738.81" width="2.2" height="2.2"/><rect x="230.26" y="738.19" width="2.2" height="2.2"/><rect x="231.88" y="740.39" width="2.2" height="2.2"/><rect x="233.49" y="737.65" width="2.2" height="2.2"/><rect x="235.11" y="740.98" width="2.2" height="2.2"/><rect x="236.72" y="739.36" width="2.2" height="2.2"/><rect x="238.34" y="738.56" width="2.2" height="2.2"/><rect x="239.95" y="740.39" width="2.2" height="2.2"/><rect x="241.56" y="738.17" width="2.2" height="2.2"/><rect x="243.18" y="741.08" width="2.2" height="2.2"/><rect x="244.80" y="739.56" width="2.2" height="2.2"/><rect x="246.41" y="738.75" width="2.2" height="2.2"/><rect x="248.03" y="740.57" width="2.2" height="2.2"/><rect x="249.64" y="738.25" width="2.2" height="2.2"/><rect x="251.26" y="741.20" width="2.2" height="2.2"/><rect x="252.87" y="738.44" width="2.2" height="2.2"/><rect x="254.49" y="738.21" width="2.2" height="2.2"/><rect x="256.10" y="740.59" width="2.2" height="2.2"/><rect x="257.71" y="738.52" width="2.2" height="2.2"/><rect x="259.33" y="740.83" width="2.2" height="2.2"/><rect x="260.94" y="739.25" width="2.2" height="2.2"/><rect x="262.56" y="739.00" width="2.2" height="2.2"/><rect x="264.17" y="739.70" width="2.2" height="2.2"/><rect x="265.79" y="737.60" width="2.2" height="2.2"/><rect x="267.40" y="740.75" width="2.2" height="2.2"/><rect x="269.02" y="739.19" width="2.2" height="2.2"/><rect x="270.63" y="739.16" width="2.2" height="2.2"/><rect x="272.25" y="740.83" width="2.2" height="2.2"/><rect x="273.86" y="738.61" width="2.2" height="2.2"/><rect x="275.48" y="741.11" width="2.2" height="2.2"/><rect x="277.09" y="738.81" width="2.2" height="2.2"/><rect x="278.71" y="739.17" width="2.2" height="2.2"/><rect x="280.32" y="741.03" width="2.2" height="2.2"/><rect x="281.94" y="737.88" width="2.2" height="2.2"/><rect x="283.55" y="740.83" width="2.2" height="2.2"/><rect x="285.17" y="739.86" width="2.2" height="2.2"/><rect x="286.78" y="738.74" width="2.2" height="2.2"/><rect x="288.40" y="741.11" width="2.2" height="2.2"/><rect x="290.01" y="738.57" width="2.2" height="2.2"/><rect x="291.63" y="740.29" width="2.2" height="2.2"/><rect x="293.24" y="744.19" width="2.2" height="2.2"/><rect x="294.86" y="747.44" width="2.2" height="2.2"/><rect x="296.47" y="738.40" width="2.2" height="2.2"/><rect x="298.09" y="730.88" width="2.2" height="2.2"/><rect x="299.70" y="736.09" width="2.2" height="2.2"/><rect x="301.32" y="729.72" width="2.2" height="2.2"/><rect x="302.93" y="732.61" width="2.2" height="2.2"/><rect x="304.55" y="736.09" width="2.2" height="2.2"/><rect x="306.16" y="733.77" width="2.2" height="2.2"/><rect x="307.78" y="686.76" width="2.2" height="2.2"/></g>
<polyline points="65.02,646.86 66.63,731.05 68.25,749.93 69.86,736.03 71.47,731.05 73.09,739.50 74.70,723.64 76.32,733.71 77.94,739.50 79.55,742.98 81.16,732.56 82.78,739.50 84.39,732.56 86.01,737.77 87.62,741.82 89.24,734.87 90.85,738.35 92.47,741.82 94.08,737.19 95.70,739.50 97.31,742.40 98.93,738.35 100.55,740.08 102.16,742.40 103.78,738.92 105.39,740.66 107.00,742.98 108.62,739.50 110.23,741.24 111.85,742.98 113.47,740.08 115.08,741.82 116.69,740.57 118.31,742.60 119.92,740.79 121.54,743.45 123.16,742.07 124.77,740.86 126.38,742.94 128.00,740.38 129.62,743.64 131.23,742.18 132.84,741.00 134.46,742.57 136.07,740.50 137.69,743.23 139.31,741.67 140.92,741.27 142.53,743.60 144.15,741.08 145.76,743.90 147.38,742.76 149.00,742.28 150.61,743.69 152.22,741.58 153.84,743.65 155.45,741.86 157.07,741.98 158.69,743.08 160.30,740.94 161.91,743.47 163.53,742.68 165.15,742.36 166.76,743.96 168.38,741.93 169.99,744.36 171.60,742.43 173.22,741.64 174.84,743.28 176.45,741.68 178.06,743.87 179.68,742.28 181.29,742.65 182.91,743.52 184.53,741.25 186.14,743.74 187.75,742.39 189.37,742.26 190.98,744.11 192.60,741.47 194.22,744.28 195.83,742.39 197.44,741.75 199.06,743.89 200.68,741.99 202.29,743.59 203.91,742.53 205.52,742.75 207.13,744.23 208.75,742.36 210.37,743.67 211.98,742.49 213.59,742.84 215.21,743.45 216.83,741.48 218.44,743.98 220.06,743.08 221.67,742.44 223.28,744.29 224.90,742.67 226.52,743.63 228.13,742.78 229.75,742.53 231.36,743.39 232.97,742.26 234.59,743.77 236.21,742.63 237.82,742.96 239.44,744.21 241.05,742.50 242.66,744.53 244.28,742.97 245.90,742.97 247.51,744.05 249.12,742.76 250.74,743.77 252.36,743.29 253.97,742.81 255.59,743.89 257.20,741.94 258.81,744.36 260.43,742.69 262.05,742.82 263.66,743.98 265.27,742.46 266.89,744.85 268.50,743.30 270.12,743.25 271.74,744.62 273.35,742.22 274.96,744.70 276.58,743.32 278.19,742.69 279.81,744.01 281.43,742.84 283.04,744.32 284.65,743.28 286.27,742.69 287.88,744.56 289.50,742.65 291.12,744.65 292.73,743.65 294.34,747.61 295.96,749.35 297.57,744.14 299.19,739.50 300.81,741.82 302.42,737.77 304.03,740.66 305.65,741.82 307.26,738.35 308.88,711.71" fill="none" stroke="#86D2F8" stroke-width="0.9" stroke-linejoin="round"/>
<g fill="#36B3F4"><rect x="63.91" y="645.76" width="2.2" height="2.2"/><rect x="65.53" y="729.95" width="2.2" height="2.2"/><rect x="67.15" y="748.83" width="2.2" height="2.2"/><rect x="68.76" y="734.93" width="2.2" height="2.2"/><rect x="70.38" y="729.95" width="2.2" height="2.2"/><rect x="71.99" y="738.40" width="2.2" height="2.2"/><rect x="73.61" y="722.54" width="2.2" height="2.2"/><rect x="75.22" y="732.61" width="2.2" height="2.2"/><rect x="76.84" y="738.40" width="2.2" height="2.2"/><rect x="78.45" y="741.88" width="2.2" height="2.2"/><rect x="80.06" y="731.46" width="2.2" height="2.2"/><rect x="81.68" y="738.40" width="2.2" height="2.2"/><rect x="83.30" y="731.46" width="2.2" height="2.2"/><rect x="84.91" y="736.67" width="2.2" height="2.2"/><rect x="86.53" y="740.72" width="2.2" height="2.2"/><rect x="88.14" y="733.77" width="2.2" height="2.2"/><rect x="89.75" y="737.25" width="2.2" height="2.2"/><rect x="91.37" y="740.72" width="2.2" height="2.2"/><rect x="92.98" y="736.09" width="2.2" height="2.2"/><rect x="94.60" y="738.40" width="2.2" height="2.2"/><rect x="96.22" y="741.30" width="2.2" height="2.2"/><rect x="97.83" y="737.25" width="2.2" height="2.2"/><rect x="99.45" y="738.98" width="2.2" height="2.2"/><rect x="101.06" y="741.30" width="2.2" height="2.2"/><rect x="102.68" y="737.82" width="2.2" height="2.2"/><rect x="104.29" y="739.56" width="2.2" height="2.2"/><rect x="105.91" y="741.88" width="2.2" height="2.2"/><rect x="107.52" y="738.40" width="2.2" height="2.2"/><rect x="109.14" y="740.14" width="2.2" height="2.2"/><rect x="110.75" y="741.88" width="2.2" height="2.2"/><rect x="112.37" y="738.98" width="2.2" height="2.2"/><rect x="113.98" y="740.72" width="2.2" height="2.2"/><rect x="115.59" y="739.47" width="2.2" height="2.2"/><rect x="117.21" y="741.50" width="2.2" height="2.2"/><rect x="118.83" y="739.69" width="2.2" height="2.2"/><rect x="120.44" y="742.35" width="2.2" height="2.2"/><rect x="122.06" y="740.97" width="2.2" height="2.2"/><rect x="123.67" y="739.76" width="2.2" height="2.2"/><rect x="125.28" y="741.84" width="2.2" height="2.2"/><rect x="126.90" y="739.28" width="2.2" height="2.2"/><rect x="128.52" y="742.54" width="2.2" height="2.2"/><rect x="130.13" y="741.08" width="2.2" height="2.2"/><rect x="131.75" y="739.90" width="2.2" height="2.2"/><rect x="133.36" y="741.47" width="2.2" height="2.2"/><rect x="134.97" y="739.40" width="2.2" height="2.2"/><rect x="136.59" y="742.13" width="2.2" height="2.2"/><rect x="138.21" y="740.57" width="2.2" height="2.2"/><rect x="139.82" y="740.17" width="2.2" height="2.2"/><rect x="141.44" y="742.50" width="2.2" height="2.2"/><rect x="143.05" y="739.98" width="2.2" height="2.2"/><rect x="144.66" y="742.80" width="2.2" height="2.2"/><rect x="146.28" y="741.66" width="2.2" height="2.2"/><rect x="147.90" y="741.18" width="2.2" height="2.2"/><rect x="149.51" y="742.59" width="2.2" height="2.2"/><rect x="151.12" y="740.48" width="2.2" height="2.2"/><rect x="152.74" y="742.55" width="2.2" height="2.2"/><rect x="154.35" y="740.76" width="2.2" height="2.2"/><rect x="155.97" y="740.88" width="2.2" height="2.2"/><rect x="157.59" y="741.98" width="2.2" height="2.2"/><rect x="159.20" y="739.84" width="2.2" height="2.2"/><rect x="160.81" y="742.37" width="2.2" height="2.2"/><rect x="162.43" y="741.58" width="2.2" height="2.2"/><rect x="164.05" y="741.26" width="2.2" height="2.2"/><rect x="165.66" y="742.86" width="2.2" height="2.2"/><rect x="167.28" y="740.83" width="2.2" height="2.2"/><rect x="168.89" y="743.26" width="2.2" height="2.2"/><rect x="170.50" y="741.33" width="2.2" height="2.2"/><rect x="172.12" y="740.54" width="2.2" height="2.2"/><rect x="173.74" y="742.18" width="2.2" height="2.2"/><rect x="175.35" y="740.58" width="2.2" height="2.2"/><rect x="176.97" y="742.77" width="2.2" height="2.2"/><rect x="178.58" y="741.18" width="2.2" height="2.2"/><rect x="180.19" y="741.55" width="2.2" height="2.2"/><rect x="181.81" y="742.42" width="2.2" height="2.2"/><rect x="183.43" y="740.15" width="2.2" height="2.2"/><rect x="185.04" y="742.64" width="2.2" height="2.2"/><rect x="186.66" y="741.29" width="2.2" height="2.2"/><rect x="188.27" y="741.16" width="2.2" height="2.2"/><rect x="189.88" y="743.01" width="2.2" height="2.2"/><rect x="191.50" y="740.37" width="2.2" height="2.2"/><rect x="193.12" y="743.18" width="2.2" height="2.2"/><rect x="194.73" y="741.29" width="2.2" height="2.2"/><rect x="196.34" y="740.65" width="2.2" height="2.2"/><rect x="197.96" y="742.79" width="2.2" height="2.2"/><rect x="199.58" y="740.89" width="2.2" height="2.2"/><rect x="201.19" y="742.49" width="2.2" height="2.2"/><rect x="202.81" y="741.43" width="2.2" height="2.2"/><rect x="204.42" y="741.65" width="2.2" height="2.2"/><rect x="206.03" y="743.13" width="2.2" height="2.2"/><rect x="207.65" y="741.26" width="2.2" height="2.2"/><rect x="209.27" y="742.57" width="2.2" height="2.2"/><rect x="210.88" y="741.39" width="2.2" height="2.2"/><rect x="212.50" y="741.74" width="2.2" height="2.2"/><rect x="214.11" y="742.35" width="2.2" height="2.2"/><rect x="215.73" y="740.38" width="2.2" height="2.2"/><rect x="217.34" y="742.88" width="2.2" height="2.2"/><rect x="218.96" y="741.98" width="2.2" height="2.2"/><rect x="220.57" y="741.34" width="2.2" height="2.2"/><rect x="222.19" y="743.19" width="2.2" height="2.2"/><rect x="223.80" y="741.57" width="2.2" height="2.2"/><rect x="225.42" y="742.53" width="2.2" height="2.2"/><rect x="227.03" y="741.68" width="2.2" height="2.2"/><rect x="228.65" y="741.43" width="2.2" height="2.2"/><rect x="230.26" y="742.29" width="2.2" height="2.2"/><rect x="231.88" y="741.16" width="2.2" height="2.2"/><rect x="233.49" y="742.67" width="2.2" height="2.2"/><rect x="235.11" y="741.53" width="2.2" height="2.2"/><rect x="236.72" y="741.86" width="2.2" height="2.2"/><rect x="238.34" y="743.11" width="2.2" height="2.2"/><rect x="239.95" y="741.40" width="2.2" height="2.2"/><rect x="241.56" y="743.43" width="2.2" height="2.2"/><rect x="243.18" y="741.87" width="2.2" height="2.2"/><rect x="244.80" y="741.87" width="2.2" height="2.2"/><rect x="246.41" y="742.95" width="2.2" height="2.2"/><rect x="248.03" y="741.66" width="2.2" height="2.2"/><rect x="249.64" y="742.67" width="2.2" height="2.2"/><rect x="251.26" y="742.19" width="2.2" height="2.2"/><rect x="252.87" y="741.71" width="2.2" height="2.2"/><rect x="254.49" y="742.79" width="2.2" height="2.2"/><rect x="256.10" y="740.84" width="2.2" height="2.2"/><rect x="257.71" y="743.26" width="2.2" height="2.2"/><rect x="259.33" y="741.59" width="2.2" height="2.2"/><rect x="260.94" y="741.72" width="2.2" height="2.2"/><rect x="262.56" y="742.88" width="2.2" height="2.2"/><rect x="264.17" y="741.36" width="2.2" height="2.2"/><rect x="265.79" y="743.75" width="2.2" height="2.2"/><rect x="267.40" y="742.20" width="2.2" height="2.2"/><rect x="269.02" y="742.15" width="2.2" height="2.2"/><rect x="270.63" y="743.52" width="2.2" height="2.2"/><rect x="272.25" y="741.12" width="2.2" height="2.2"/><rect x="273.86" y="743.60" width="2.2" height="2.2"/><rect x="275.48" y="742.22" width="2.2" height="2.2"/><rect x="277.09" y="741.59" width="2.2" height="2.2"/><rect x="278.71" y="742.91" width="2.2" height="2.2"/><rect x="280.32" y="741.74" width="2.2" height="2.2"/><rect x="281.94" y="743.22" width="2.2" height="2.2"/><rect x="283.55" y="742.18" width="2.2" height="2.2"/><rect x="285.17" y="741.59" width="2.2" height="2.2"/><rect x="286.78" y="743.46" width="2.2" height="2.2"/><rect x="288.40" y="741.55" width="2.2" height="2.2"/><rect x="290.01" y="743.55" width="2.2" height="2.2"/><rect x="291.63" y="742.55" width="2.2" height="2.2"/><rect x="293.24" y="746.51" width="2.2" height="2.2"/><rect x="294.86" y="748.25" width="2.2" height="2.2"/><rect x="296.47" y="743.04" width="2.2" height="2.2"/><rect x="298.09" y="738.40" width="2.2" height="2.2"/><rect x="299.70" y="740.72" width="2.2" height="2.2"/><rect x="301.32" y="736.67" width="2.2" height="2.2"/><rect x="302.93" y="739.56" width="2.2" height="2.2"/><rect x="304.55" y="740.72" width="2.2" height="2.2"/><rect x="306.16" y="737.25" width="2.2" height="2.2"/><rect x="307.78" y="710.61" width="2.2" height="2.2"/></g>
<polyline points="65.02,693.53 66.63,741.82 68.25,749.93 69.86,741.82 71.47,744.72 73.09,740.66 74.70,744.14 76.32,742.40 77.94,745.29 79.55,741.24 81.16,744.14 82.78,742.98 84.39,745.87 86.01,741.82 87.62,744.72 89.24,743.56 90.85,743.47 92.47,743.51 94.08,745.06 95.70,742.75 97.31,745.42 98.93,744.16 100.55,743.81 102.16,745.47 103.78,743.38 105.39,745.98 107.00,744.54 108.62,744.27 110.23,745.86 111.85,743.39 113.47,746.32 115.08,744.53 116.69,744.28 118.31,746.42 119.92,744.15 121.54,746.44 123.16,744.95 124.77,745.42 126.38,746.91 128.00,744.66 129.62,747.58 131.23,745.85 132.84,745.82 134.46,746.69 136.07,744.67 137.69,747.08 139.31,746.23 140.92,745.53 142.53,746.97 144.15,745.58 145.76,747.36 147.38,745.78 149.00,746.29 150.61,746.97 152.22,745.66 153.84,747.98 155.45,746.05 157.07,746.03 158.69,747.98 160.30,745.94 161.91,748.22 163.53,746.95 165.15,746.92 166.76,748.11 168.38,745.99 169.99,748.94 171.60,747.05 173.22,747.00 174.84,748.66 176.45,746.67 178.06,748.60 179.68,747.30 181.29,747.51 182.91,747.86 184.53,746.34 186.14,748.31 187.75,747.75 189.37,747.40 190.98,748.78 192.60,746.44 194.22,749.00 195.83,747.80 197.44,747.34 199.06,748.02 200.68,746.50 202.29,749.05 203.91,747.85 205.52,746.96 207.13,748.38 208.75,746.70 210.37,749.24 211.98,748.01 213.59,747.25 215.21,748.56 216.83,747.37 218.44,748.49 220.06,747.55 221.67,747.22 223.28,748.93 224.90,746.74 226.52,749.33 228.13,747.41 229.75,747.62 231.36,748.74 232.97,747.11 234.59,748.57 236.21,748.03 237.82,748.00 239.44,748.61 241.05,747.49 242.66,749.37 244.28,748.21 245.90,748.15 247.51,748.96 249.12,747.52 250.74,749.22 252.36,747.72 253.97,748.01 255.59,748.73 257.20,747.73 258.81,749.22 260.43,748.48 262.05,748.12 263.66,749.23 265.27,747.31 266.89,749.07 268.50,748.40 270.12,747.99 271.74,748.43 273.35,747.99 274.96,748.86 276.58,748.25 278.19,748.05 279.81,748.57 281.43,747.81 283.04,749.18 284.65,748.08 286.27,747.68 287.88,749.07 289.50,747.50 291.12,749.03 292.73,748.20 294.34,749.69 295.96,750.16 297.57,747.61 299.19,745.29 300.81,746.45 302.42,744.72 304.03,745.29 305.65,746.45 307.26,744.14 308.88,732.21" fill="none" stroke="#C7A2F0" stroke-width="0.9" stroke-linejoin="round"/>
<g fill="#A46BE6"><rect x="63.91" y="692.43" width="2.2" height="2.2"/><rect x="65.53" y="740.72" width="2.2" height="2.2"/><rect x="67.15" y="748.83" width="2.2" height="2.2"/><rect x="68.76" y="740.72" width="2.2" height="2.2"/><rect x="70.38" y="743.62" width="2.2" height="2.2"/><rect x="71.99" y="739.56" width="2.2" height="2.2"/><rect x="73.61" y="743.04" width="2.2" height="2.2"/><rect x="75.22" y="741.30" width="2.2" height="2.2"/><rect x="76.84" y="744.19" width="2.2" height="2.2"/><rect x="78.45" y="740.14" width="2.2" height="2.2"/><rect x="80.06" y="743.04" width="2.2" height="2.2"/><rect x="81.68" y="741.88" width="2.2" height="2.2"/><rect x="83.30" y="744.77" width="2.2" height="2.2"/><rect x="84.91" y="740.72" width="2.2" height="2.2"/><rect x="86.53" y="743.62" width="2.2" height="2.2"/><rect x="88.14" y="742.46" width="2.2" height="2.2"/><rect x="89.75" y="742.37" width="2.2" height="2.2"/><rect x="91.37" y="742.41" width="2.2" height="2.2"/><rect x="92.98" y="743.96" width="2.2" height="2.2"/><rect x="94.60" y="741.65" width="2.2" height="2.2"/><rect x="96.22" y="744.32" width="2.2" height="2.2"/><rect x="97.83" y="743.06" width="2.2" height="2.2"/><rect x="99.45" y="742.71" width="2.2" height="2.2"/><rect x="101.06" y="744.37" width="2.2" height="2.2"/><rect x="102.68" y="742.28" width="2.2" height="2.2"/><rect x="104.29" y="744.88" width="2.2" height="2.2"/><rect x="105.91" y="743.44" width="2.2" height="2.2"/><rect x="107.52" y="743.17" width="2.2" height="2.2"/><rect x="109.14" y="744.76" width="2.2" height="2.2"/><rect x="110.75" y="742.29" width="2.2" height="2.2"/><rect x="112.37" y="745.22" width="2.2" height="2.2"/><rect x="113.98" y="743.43" width="2.2" height="2.2"/><rect x="115.59" y="743.18" width="2.2" height="2.2"/><rect x="117.21" y="745.32" width="2.2" height="2.2"/><rect x="118.83" y="743.05" width="2.2" height="2.2"/><rect x="120.44" y="745.34" width="2.2" height="2.2"/><rect x="122.06" y="743.85" width="2.2" height="2.2"/><rect x="123.67" y="744.32" width="2.2" height="2.2"/><rect x="125.28" y="745.81" width="2.2" height="2.2"/><rect x="126.90" y="743.56" width="2.2" height="2.2"/><rect x="128.52" y="746.48" width="2.2" height="2.2"/><rect x="130.13" y="744.75" width="2.2" height="2.2"/><rect x="131.75" y="744.72" width="2.2" height="2.2"/><rect x="133.36" y="745.59" width="2.2" height="2.2"/><rect x="134.97" y="743.57" width="2.2" height="2.2"/><rect x="136.59" y="745.98" width="2.2" height="2.2"/><rect x="138.21" y="745.13" width="2.2" height="2.2"/><rect x="139.82" y="744.43" width="2.2" height="2.2"/><rect x="141.44" y="745.87" width="2.2" height="2.2"/><rect x="143.05" y="744.48" width="2.2" height="2.2"/><rect x="144.66" y="746.26" width="2.2" height="2.2"/><rect x="146.28" y="744.68" width="2.2" height="2.2"/><rect x="147.90" y="745.19" width="2.2" height="2.2"/><rect x="149.51" y="745.87" width="2.2" height="2.2"/><rect x="151.12" y="744.56" width="2.2" height="2.2"/><rect x="152.74" y="746.88" width="2.2" height="2.2"/><rect x="154.35" y="744.95" width="2.2" height="2.2"/><rect x="155.97" y="744.93" width="2.2" height="2.2"/><rect x="157.59" y="746.88" width="2.2" height="2.2"/><rect x="159.20" y="744.84" width="2.2" height="2.2"/><rect x="160.81" y="747.12" width="2.2" height="2.2"/><rect x="162.43" y="745.85" width="2.2" height="2.2"/><rect x="164.05" y="745.82" width="2.2" height="2.2"/><rect x="165.66" y="747.01" width="2.2" height="2.2"/><rect x="167.28" y="744.89" width="2.2" height="2.2"/><rect x="168.89" y="747.84" width="2.2" height="2.2"/><rect x="170.50" y="745.95" width="2.2" height="2.2"/><rect x="172.12" y="745.90" width="2.2" height="2.2"/><rect x="173.74" y="747.56" width="2.2" height="2.2"/><rect x="175.35" y="745.57" width="2.2" height="2.2"/><rect x="176.97" y="747.50" width="2.2" height="2.2"/><rect x="178.58" y="746.20" width="2.2" height="2.2"/><rect x="180.19" y="746.41" width="2.2" height="2.2"/><rect x="181.81" y="746.76" width="2.2" height="2.2"/><rect x="183.43" y="745.24" width="2.2" height="2.2"/><rect x="185.04" y="747.21" width="2.2" height="2.2"/><rect x="186.66" y="746.65" width="2.2" height="2.2"/><rect x="188.27" y="746.30" width="2.2" height="2.2"/><rect x="189.88" y="747.68" width="2.2" height="2.2"/><rect x="191.50" y="745.34" width="2.2" height="2.2"/><rect x="193.12" y="747.90" width="2.2" height="2.2"/><rect x="194.73" y="746.70" width="2.2" height="2.2"/><rect x="196.34" y="746.24" width="2.2" height="2.2"/><rect x="197.96" y="746.92" width="2.2" height="2.2"/><rect x="199.58" y="745.40" width="2.2" height="2.2"/><rect x="201.19" y="747.95" width="2.2" height="2.2"/><rect x="202.81" y="746.75" width="2.2" height="2.2"/><rect x="204.42" y="745.86" width="2.2" height="2.2"/><rect x="206.03" y="747.28" width="2.2" height="2.2"/><rect x="207.65" y="745.60" width="2.2" height="2.2"/><rect x="209.27" y="748.14" width="2.2" height="2.2"/><rect x="210.88" y="746.91" width="2.2" height="2.2"/><rect x="212.50" y="746.15" width="2.2" height="2.2"/><rect x="214.11" y="747.46" width="2.2" height="2.2"/><rect x="215.73" y="746.27" width="2.2" height="2.2"/><rect x="217.34" y="747.39" width="2.2" height="2.2"/><rect x="218.96" y="746.45" width="2.2" height="2.2"/><rect x="220.57" y="746.12" width="2.2" height="2.2"/><rect x="222.19" y="747.83" width="2.2" height="2.2"/><rect x="223.80" y="745.64" width="2.2" height="2.2"/><rect x="225.42" y="748.23" width="2.2" height="2.2"/><rect x="227.03" y="746.31" width="2.2" height="2.2"/><rect x="228.65" y="746.52" width="2.2" height="2.2"/><rect x="230.26" y="747.64" width="2.2" height="2.2"/><rect x="231.88" y="746.01" width="2.2" height="2.2"/><rect x="233.49" y="747.47" width="2.2" height="2.2"/><rect x="235.11" y="746.93" width="2.2" height="2.2"/><rect x="236.72" y="746.90" width="2.2" height="2.2"/><rect x="238.34" y="747.51" width="2.2" height="2.2"/><rect x="239.95" y="746.39" width="2.2" height="2.2"/><rect x="241.56" y="748.27" width="2.2" height="2.2"/><rect x="243.18" y="747.11" width="2.2" height="2.2"/><rect x="244.80" y="747.05" width="2.2" height="2.2"/><rect x="246.41" y="747.86" width="2.2" height="2.2"/><rect x="248.03" y="746.42" width="2.2" height="2.2"/><rect x="249.64" y="748.12" width="2.2" height="2.2"/><rect x="251.26" y="746.62" width="2.2" height="2.2"/><rect x="252.87" y="746.91" width="2.2" height="2.2"/><rect x="254.49" y="747.63" width="2.2" height="2.2"/><rect x="256.10" y="746.63" width="2.2" height="2.2"/><rect x="257.71" y="748.12" width="2.2" height="2.2"/><rect x="259.33" y="747.38" width="2.2" height="2.2"/><rect x="260.94" y="747.02" width="2.2" height="2.2"/><rect x="262.56" y="748.13" width="2.2" height="2.2"/><rect x="264.17" y="746.21" width="2.2" height="2.2"/><rect x="265.79" y="747.97" width="2.2" height="2.2"/><rect x="267.40" y="747.30" width="2.2" height="2.2"/><rect x="269.02" y="746.89" width="2.2" height="2.2"/><rect x="270.63" y="747.33" width="2.2" height="2.2"/><rect x="272.25" y="746.89" width="2.2" height="2.2"/><rect x="273.86" y="747.76" width="2.2" height="2.2"/><rect x="275.48" y="747.15" width="2.2" height="2.2"/><rect x="277.09" y="746.95" width="2.2" height="2.2"/><rect x="278.71" y="747.47" width="2.2" height="2.2"/><rect x="280.32" y="746.71" width="2.2" height="2.2"/><rect x="281.94" y="748.08" width="2.2" height="2.2"/><rect x="283.55" y="746.98" width="2.2" height="2.2"/><rect x="285.17" y="746.58" width="2.2" height="2.2"/><rect x="286.78" y="747.97" width="2.2" height="2.2"/><rect x="288.40" y="746.40" width="2.2" height="2.2"/><rect x="290.01" y="747.93" width="2.2" height="2.2"/><rect x="291.63" y="747.10" width="2.2" height="2.2"/><rect x="293.24" y="748.59" width="2.2" height="2.2"/><rect x="294.86" y="749.06" width="2.2" height="2.2"/><rect x="296.47" y="746.51" width="2.2" height="2.2"/><rect x="298.09" y="744.19" width="2.2" height="2.2"/><rect x="299.70" y="745.35" width="2.2" height="2.2"/><rect x="301.32" y="743.62" width="2.2" height="2.2"/><rect x="302.93" y="744.19" width="2.2" height="2.2"/><rect x="304.55" y="745.35" width="2.2" height="2.2"/><rect x="306.16" y="743.04" width="2.2" height="2.2"/><rect x="307.78" y="731.11" width="2.2" height="2.2"/></g>
<polyline points="65.02,565.80 66.63,708.59 68.25,749.93 69.86,711.25 71.47,711.25 73.09,723.29 74.70,699.67 76.32,716.11 77.94,731.63 79.55,708.12 81.16,699.67 82.78,733.37 84.39,709.86 86.01,720.98 87.62,731.63 89.24,708.12 90.85,719.59 92.47,732.56 94.08,718.31 95.70,712.87 97.31,728.16 98.93,724.45 100.55,714.03 102.16,713.33 103.78,727.58 105.39,723.06 107.00,718.89 108.62,730.59 110.23,725.96 111.85,725.96 113.47,736.26 115.08,730.59 116.69,730.59 118.31,739.27 119.92,734.18 121.54,729.55 123.16,739.27 124.77,735.22 126.38,738.35 128.00,734.87 129.62,730.59 131.23,736.26 132.84,734.87 134.46,732.21 136.07,735.68 137.69,737.19 139.31,732.21 140.92,734.87 142.53,738.35 144.15,734.87 145.76,732.21 147.38,733.71 149.00,730.24 150.61,734.87 152.22,736.03 153.84,733.13 155.45,734.87 157.07,737.77 158.69,734.87 160.30,740.66 161.91,738.35 163.53,736.61 165.15,737.97 166.76,740.12 168.38,737.34 169.99,741.01 171.60,738.70 173.22,738.50 174.84,740.82 176.45,738.13 178.06,741.53 179.68,739.24 181.29,739.23 182.91,740.98 184.53,738.38 186.14,740.54 187.75,739.79 189.37,739.14 190.98,740.35 192.60,737.79 194.22,740.99 195.83,739.54 197.44,738.23 199.06,741.26 200.68,738.05 202.29,741.50 203.91,740.01 205.52,739.55 207.13,741.01 208.75,738.24 210.37,741.76 211.98,739.53 213.59,738.96 215.21,741.04 216.83,738.75 218.44,742.03 220.06,740.38 221.67,739.69 223.28,740.72 224.90,739.05 226.52,741.78 228.13,739.78 229.75,739.48 231.36,741.36 232.97,738.68 234.59,741.36 236.21,740.38 237.82,739.44 239.44,741.16 241.05,738.70 242.66,741.42 244.28,740.44 245.90,739.01 247.51,741.84 249.12,739.47 250.74,741.49 252.36,740.75 253.97,739.82 255.59,742.06 257.20,739.26 258.81,741.58 260.43,740.29 262.05,739.41 263.66,741.79 265.27,739.35 266.89,741.93 268.50,740.41 270.12,740.13 271.74,741.17 273.35,739.14 274.96,742.20 276.58,740.42 278.19,740.81 279.81,741.48 281.43,739.69 283.04,741.59 284.65,740.32 286.27,740.63 287.88,742.03 289.50,739.79 291.12,743.04 292.73,740.95 294.34,744.14 295.96,748.19 297.57,740.66 299.19,733.13 300.81,738.35 302.42,732.56 304.03,736.03 305.65,738.35 307.26,731.98 308.88,696.66" fill="none" stroke="#6F9EEC" stroke-width="0.9" stroke-linejoin="round"/>
<g fill="#2E6FE2"><rect x="63.91" y="564.70" width="2.2" height="2.2"/><rect x="65.53" y="707.49" width="2.2" height="2.2"/><rect x="67.15" y="748.83" width="2.2" height="2.2"/><rect x="68.76" y="710.15" width="2.2" height="2.2"/><rect x="70.38" y="710.15" width="2.2" height="2.2"/><rect x="71.99" y="722.19" width="2.2" height="2.2"/><rect x="73.61" y="698.57" width="2.2" height="2.2"/><rect x="75.22" y="715.01" width="2.2" height="2.2"/><rect x="76.84" y="730.53" width="2.2" height="2.2"/><rect x="78.45" y="707.02" width="2.2" height="2.2"/><rect x="80.06" y="698.57" width="2.2" height="2.2"/><rect x="81.68" y="732.27" width="2.2" height="2.2"/><rect x="83.30" y="708.76" width="2.2" height="2.2"/><rect x="84.91" y="719.88" width="2.2" height="2.2"/><rect x="86.53" y="730.53" width="2.2" height="2.2"/><rect x="88.14" y="707.02" width="2.2" height="2.2"/><rect x="89.75" y="718.49" width="2.2" height="2.2"/><rect x="91.37" y="731.46" width="2.2" height="2.2"/><rect x="92.98" y="717.21" width="2.2" height="2.2"/><rect x="94.60" y="711.77" width="2.2" height="2.2"/><rect x="96.22" y="727.06" width="2.2" height="2.2"/><rect x="97.83" y="723.35" width="2.2" height="2.2"/><rect x="99.45" y="712.93" width="2.2" height="2.2"/><rect x="101.06" y="712.23" width="2.2" height="2.2"/><rect x="102.68" y="726.48" width="2.2" height="2.2"/><rect x="104.29" y="721.96" width="2.2" height="2.2"/><rect x="105.91" y="717.79" width="2.2" height="2.2"/><rect x="107.52" y="729.49" width="2.2" height="2.2"/><rect x="109.14" y="724.86" width="2.2" height="2.2"/><rect x="110.75" y="724.86" width="2.2" height="2.2"/><rect x="112.37" y="735.16" width="2.2" height="2.2"/><rect x="113.98" y="729.49" width="2.2" height="2.2"/><rect x="115.59" y="729.49" width="2.2" height="2.2"/><rect x="117.21" y="738.17" width="2.2" height="2.2"/><rect x="118.83" y="733.08" width="2.2" height="2.2"/><rect x="120.44" y="728.45" width="2.2" height="2.2"/><rect x="122.06" y="738.17" width="2.2" height="2.2"/><rect x="123.67" y="734.12" width="2.2" height="2.2"/><rect x="125.28" y="737.25" width="2.2" height="2.2"/><rect x="126.90" y="733.77" width="2.2" height="2.2"/><rect x="128.52" y="729.49" width="2.2" height="2.2"/><rect x="130.13" y="735.16" width="2.2" height="2.2"/><rect x="131.75" y="733.77" width="2.2" height="2.2"/><rect x="133.36" y="731.11" width="2.2" height="2.2"/><rect x="134.97" y="734.58" width="2.2" height="2.2"/><rect x="136.59" y="736.09" width="2.2" height="2.2"/><rect x="138.21" y="731.11" width="2.2" height="2.2"/><rect x="139.82" y="733.77" width="2.2" height="2.2"/><rect x="141.44" y="737.25" width="2.2" height="2.2"/><rect x="143.05" y="733.77" width="2.2" height="2.2"/><rect x="144.66" y="731.11" width="2.2" height="2.2"/><rect x="146.28" y="732.61" width="2.2" height="2.2"/><rect x="147.90" y="729.14" width="2.2" height="2.2"/><rect x="149.51" y="733.77" width="2.2" height="2.2"/><rect x="151.12" y="734.93" width="2.2" height="2.2"/><rect x="152.74" y="732.03" width="2.2" height="2.2"/><rect x="154.35" y="733.77" width="2.2" height="2.2"/><rect x="155.97" y="736.67" width="2.2" height="2.2"/><rect x="157.59" y="733.77" width="2.2" height="2.2"/><rect x="159.20" y="739.56" width="2.2" height="2.2"/><rect x="160.81" y="737.25" width="2.2" height="2.2"/><rect x="162.43" y="735.51" width="2.2" height="2.2"/><rect x="164.05" y="736.87" width="2.2" height="2.2"/><rect x="165.66" y="739.02" width="2.2" height="2.2"/><rect x="167.28" y="736.24" width="2.2" height="2.2"/><rect x="168.89" y="739.91" width="2.2" height="2.2"/><rect x="170.50" y="737.60" width="2.2" height="2.2"/><rect x="172.12" y="737.40" width="2.2" height="2.2"/><rect x="173.74" y="739.72" width="2.2" height="2.2"/><rect x="175.35" y="737.03" width="2.2" height="2.2"/><rect x="176.97" y="740.43" width="2.2" height="2.2"/><rect x="178.58" y="738.14" width="2.2" height="2.2"/><rect x="180.19" y="738.13" width="2.2" height="2.2"/><rect x="181.81" y="739.88" width="2.2" height="2.2"/><rect x="183.43" y="737.28" width="2.2" height="2.2"/><rect x="185.04" y="739.44" width="2.2" height="2.2"/><rect x="186.66" y="738.69" width="2.2" height="2.2"/><rect x="188.27" y="738.04" width="2.2" height="2.2"/><rect x="189.88" y="739.25" width="2.2" height="2.2"/><rect x="191.50" y="736.69" width="2.2" height="2.2"/><rect x="193.12" y="739.89" width="2.2" height="2.2"/><rect x="194.73" y="738.44" width="2.2" height="2.2"/><rect x="196.34" y="737.13" width="2.2" height="2.2"/><rect x="197.96" y="740.16" width="2.2" height="2.2"/><rect x="199.58" y="736.95" width="2.2" height="2.2"/><rect x="201.19" y="740.40" width="2.2" height="2.2"/><rect x="202.81" y="738.91" width="2.2" height="2.2"/><rect x="204.42" y="738.45" width="2.2" height="2.2"/><rect x="206.03" y="739.91" width="2.2" height="2.2"/><rect x="207.65" y="737.14" width="2.2" height="2.2"/><rect x="209.27" y="740.66" width="2.2" height="2.2"/><rect x="210.88" y="738.43" width="2.2" height="2.2"/><rect x="212.50" y="737.86" width="2.2" height="2.2"/><rect x="214.11" y="739.94" width="2.2" height="2.2"/><rect x="215.73" y="737.65" width="2.2" height="2.2"/><rect x="217.34" y="740.93" width="2.2" height="2.2"/><rect x="218.96" y="739.28" width="2.2" height="2.2"/><rect x="220.57" y="738.59" width="2.2" height="2.2"/><rect x="222.19" y="739.62" width="2.2" height="2.2"/><rect x="223.80" y="737.95" width="2.2" height="2.2"/><rect x="225.42" y="740.68" width="2.2" height="2.2"/><rect x="227.03" y="738.68" width="2.2" height="2.2"/><rect x="228.65" y="738.38" width="2.2" height="2.2"/><rect x="230.26" y="740.26" width="2.2" height="2.2"/><rect x="231.88" y="737.58" width="2.2" height="2.2"/><rect x="233.49" y="740.26" width="2.2" height="2.2"/><rect x="235.11" y="739.28" width="2.2" height="2.2"/><rect x="236.72" y="738.34" width="2.2" height="2.2"/><rect x="238.34" y="740.06" width="2.2" height="2.2"/><rect x="239.95" y="737.60" width="2.2" height="2.2"/><rect x="241.56" y="740.32" width="2.2" height="2.2"/><rect x="243.18" y="739.34" width="2.2" height="2.2"/><rect x="244.80" y="737.91" width="2.2" height="2.2"/><rect x="246.41" y="740.74" width="2.2" height="2.2"/><rect x="248.03" y="738.37" width="2.2" height="2.2"/><rect x="249.64" y="740.39" width="2.2" height="2.2"/><rect x="251.26" y="739.65" width="2.2" height="2.2"/><rect x="252.87" y="738.72" width="2.2" height="2.2"/><rect x="254.49" y="740.96" width="2.2" height="2.2"/><rect x="256.10" y="738.16" width="2.2" height="2.2"/><rect x="257.71" y="740.48" width="2.2" height="2.2"/><rect x="259.33" y="739.19" width="2.2" height="2.2"/><rect x="260.94" y="738.31" width="2.2" height="2.2"/><rect x="262.56" y="740.69" width="2.2" height="2.2"/><rect x="264.17" y="738.25" width="2.2" height="2.2"/><rect x="265.79" y="740.83" width="2.2" height="2.2"/><rect x="267.40" y="739.31" width="2.2" height="2.2"/><rect x="269.02" y="739.03" width="2.2" height="2.2"/><rect x="270.63" y="740.07" width="2.2" height="2.2"/><rect x="272.25" y="738.04" width="2.2" height="2.2"/><rect x="273.86" y="741.10" width="2.2" height="2.2"/><rect x="275.48" y="739.32" width="2.2" height="2.2"/><rect x="277.09" y="739.71" width="2.2" height="2.2"/><rect x="278.71" y="740.38" width="2.2" height="2.2"/><rect x="280.32" y="738.59" width="2.2" height="2.2"/><rect x="281.94" y="740.49" width="2.2" height="2.2"/><rect x="283.55" y="739.22" width="2.2" height="2.2"/><rect x="285.17" y="739.53" width="2.2" height="2.2"/><rect x="286.78" y="740.93" width="2.2" height="2.2"/><rect x="288.40" y="738.69" width="2.2" height="2.2"/><rect x="290.01" y="741.94" width="2.2" height="2.2"/><rect x="291.63" y="739.85" width="2.2" height="2.2"/><rect x="293.24" y="743.04" width="2.2" height="2.2"/><rect x="294.86" y="747.09" width="2.2" height="2.2"/><rect x="296.47" y="739.56" width="2.2" height="2.2"/><rect x="298.09" y="732.03" width="2.2" height="2.2"/><rect x="299.70" y="737.25" width="2.2" height="2.2"/><rect x="301.32" y="731.46" width="2.2" height="2.2"/><rect x="302.93" y="734.93" width="2.2" height="2.2"/><rect x="304.55" y="737.25" width="2.2" height="2.2"/><rect x="306.16" y="730.88" width="2.2" height="2.2"/><rect x="307.78" y="695.56" width="2.2" height="2.2"/></g>
<polyline points="65.02,726.77 66.63,750.62 68.25,752.82 69.86,751.08 71.47,749.35 73.09,750.50 74.70,748.77 76.32,749.93 77.94,749.35 79.55,749.87 81.16,751.36 82.78,750.37 84.39,749.98 86.01,751.21 87.62,749.85 89.24,751.23 90.85,750.26 92.47,750.30 94.08,751.27 95.70,749.94 97.31,751.37 98.93,750.99 100.55,750.92 102.16,751.22 103.78,750.39 105.39,751.63 107.00,751.05 108.62,750.83 110.23,751.47 111.85,750.27 113.47,751.96 115.08,750.76 116.69,750.62 118.31,751.74 119.92,750.35 121.54,751.59 123.16,750.80 124.77,751.14 126.38,751.69 128.00,750.86 129.62,751.50 131.23,751.11 132.84,751.18 134.46,751.71 136.07,751.00 137.69,752.20 139.31,751.50 140.92,750.90 142.53,751.85 144.15,750.59 145.76,752.09 147.38,751.43 149.00,751.17 150.61,751.95 152.22,751.03 153.84,751.64 155.45,751.05 157.07,751.01 158.69,751.69 160.30,750.71 161.91,751.68 163.53,751.33 165.15,751.12 166.76,752.13 168.38,750.89 169.99,752.06 171.60,751.23 173.22,751.22 174.84,752.00 176.45,751.42 178.06,751.76 179.68,751.71 181.29,751.39 182.91,752.00 184.53,751.30 186.14,751.93 187.75,751.17 189.37,751.58 190.98,751.82 192.60,751.35 194.22,752.08 195.83,751.61 197.44,751.68 199.06,752.18 200.68,751.44 202.29,751.85 203.91,751.56 205.52,751.67 207.13,751.68 208.75,750.92 210.37,752.18 211.98,751.83 213.59,751.71 215.21,752.26 216.83,751.40 218.44,752.43 220.06,751.78 221.67,751.69 223.28,751.94 224.90,751.05 226.52,751.99 228.13,751.68 229.75,751.60 231.36,751.98 232.97,751.43 234.59,752.28 236.21,751.95 237.82,751.72 239.44,751.69 241.05,751.63 242.66,752.18 244.28,751.57 245.90,751.34 247.51,752.23 249.12,751.56 250.74,752.37 252.36,751.75 253.97,751.65 255.59,751.73 257.20,751.18 258.81,751.94 260.43,752.04 262.05,751.96 263.66,751.91 265.27,751.18 266.89,752.23 268.50,751.67 270.12,752.00 271.74,752.14 273.35,751.18 274.96,751.99 276.58,751.50 278.19,751.35 279.81,752.26 281.43,751.78 283.04,752.47 284.65,751.75 286.27,751.58 287.88,751.79 289.50,751.38 291.12,752.14 292.73,751.61 294.34,752.24 295.96,752.24 297.57,751.66 299.19,750.85 300.81,750.50 302.42,751.08 304.03,749.93 305.65,749.35 307.26,748.77 308.88,747.15" fill="none" stroke="#E2B85A" stroke-width="0.9" stroke-linejoin="round"/>
<g fill="#D6A01C"><rect x="63.91" y="725.67" width="2.2" height="2.2"/><rect x="65.53" y="749.52" width="2.2" height="2.2"/><rect x="67.15" y="751.72" width="2.2" height="2.2"/><rect x="68.76" y="749.98" width="2.2" height="2.2"/><rect x="70.38" y="748.25" width="2.2" height="2.2"/><rect x="71.99" y="749.40" width="2.2" height="2.2"/><rect x="73.61" y="747.67" width="2.2" height="2.2"/><rect x="75.22" y="748.83" width="2.2" height="2.2"/><rect x="76.84" y="748.25" width="2.2" height="2.2"/><rect x="78.45" y="748.77" width="2.2" height="2.2"/><rect x="80.06" y="750.26" width="2.2" height="2.2"/><rect x="81.68" y="749.27" width="2.2" height="2.2"/><rect x="83.30" y="748.88" width="2.2" height="2.2"/><rect x="84.91" y="750.11" width="2.2" height="2.2"/><rect x="86.53" y="748.75" width="2.2" height="2.2"/><rect x="88.14" y="750.13" width="2.2" height="2.2"/><rect x="89.75" y="749.16" width="2.2" height="2.2"/><rect x="91.37" y="749.20" width="2.2" height="2.2"/><rect x="92.98" y="750.17" width="2.2" height="2.2"/><rect x="94.60" y="748.84" width="2.2" height="2.2"/><rect x="96.22" y="750.27" width="2.2" height="2.2"/><rect x="97.83" y="749.89" width="2.2" height="2.2"/><rect x="99.45" y="749.82" width="2.2" height="2.2"/><rect x="101.06" y="750.12" width="2.2" height="2.2"/><rect x="102.68" y="749.29" width="2.2" height="2.2"/><rect x="104.29" y="750.53" width="2.2" height="2.2"/><rect x="105.91" y="749.95" width="2.2" height="2.2"/><rect x="107.52" y="749.73" width="2.2" height="2.2"/><rect x="109.14" y="750.37" width="2.2" height="2.2"/><rect x="110.75" y="749.17" width="2.2" height="2.2"/><rect x="112.37" y="750.86" width="2.2" height="2.2"/><rect x="113.98" y="749.66" width="2.2" height="2.2"/><rect x="115.59" y="749.52" width="2.2" height="2.2"/><rect x="117.21" y="750.64" width="2.2" height="2.2"/><rect x="118.83" y="749.25" width="2.2" height="2.2"/><rect x="120.44" y="750.49" width="2.2" height="2.2"/><rect x="122.06" y="749.70" width="2.2" height="2.2"/><rect x="123.67" y="750.04" width="2.2" height="2.2"/><rect x="125.28" y="750.59" width="2.2" height="2.2"/><rect x="126.90" y="749.76" width="2.2" height="2.2"/><rect x="128.52" y="750.40" width="2.2" height="2.2"/><rect x="130.13" y="750.01" width="2.2" height="2.2"/><rect x="131.75" y="750.08" width="2.2" height="2.2"/><rect x="133.36" y="750.61" width="2.2" height="2.2"/><rect x="134.97" y="749.90" width="2.2" height="2.2"/><rect x="136.59" y="751.10" width="2.2" height="2.2"/><rect x="138.21" y="750.40" width="2.2" height="2.2"/><rect x="139.82" y="749.80" width="2.2" height="2.2"/><rect x="141.44" y="750.75" width="2.2" height="2.2"/><rect x="143.05" y="749.49" width="2.2" height="2.2"/><rect x="144.66" y="750.99" width="2.2" height="2.2"/><rect x="146.28" y="750.33" width="2.2" height="2.2"/><rect x="147.90" y="750.07" width="2.2" height="2.2"/><rect x="149.51" y="750.85" width="2.2" height="2.2"/><rect x="151.12" y="749.93" width="2.2" height="2.2"/><rect x="152.74" y="750.54" width="2.2" height="2.2"/><rect x="154.35" y="749.95" width="2.2" height="2.2"/><rect x="155.97" y="749.91" width="2.2" height="2.2"/><rect x="157.59" y="750.59" width="2.2" height="2.2"/><rect x="159.20" y="749.61" width="2.2" height="2.2"/><rect x="160.81" y="750.58" width="2.2" height="2.2"/><rect x="162.43" y="750.23" width="2.2" height="2.2"/><rect x="164.05" y="750.02" width="2.2" height="2.2"/><rect x="165.66" y="751.03" width="2.2" height="2.2"/><rect x="167.28" y="749.79" width="2.2" height="2.2"/><rect x="168.89" y="750.96" width="2.2" height="2.2"/><rect x="170.50" y="750.13" width="2.2" height="2.2"/><rect x="172.12" y="750.12" width="2.2" height="2.2"/><rect x="173.74" y="750.90" width="2.2" height="2.2"/><rect x="175.35" y="750.32" width="2.2" height="2.2"/><rect x="176.97" y="750.66" width="2.2" height="2.2"/><rect x="178.58" y="750.61" width="2.2" height="2.2"/><rect x="180.19" y="750.29" width="2.2" height="2.2"/><rect x="181.81" y="750.90" width="2.2" height="2.2"/><rect x="183.43" y="750.20" width="2.2" height="2.2"/><rect x="185.04" y="750.83" width="2.2" height="2.2"/><rect x="186.66" y="750.07" width="2.2" height="2.2"/><rect x="188.27" y="750.48" width="2.2" height="2.2"/><rect x="189.88" y="750.72" width="2.2" height="2.2"/><rect x="191.50" y="750.25" width="2.2" height="2.2"/><rect x="193.12" y="750.98" width="2.2" height="2.2"/><rect x="194.73" y="750.51" width="2.2" height="2.2"/><rect x="196.34" y="750.58" width="2.2" height="2.2"/><rect x="197.96" y="751.08" width="2.2" height="2.2"/><rect x="199.58" y="750.34" width="2.2" height="2.2"/><rect x="201.19" y="750.75" width="2.2" height="2.2"/><rect x="202.81" y="750.46" width="2.2" height="2.2"/><rect x="204.42" y="750.57" width="2.2" height="2.2"/><rect x="206.03" y="750.58" width="2.2" height="2.2"/><rect x="207.65" y="749.82" width="2.2" height="2.2"/><rect x="209.27" y="751.08" width="2.2" height="2.2"/><rect x="210.88" y="750.73" width="2.2" height="2.2"/><rect x="212.50" y="750.61" width="2.2" height="2.2"/><rect x="214.11" y="751.16" width="2.2" height="2.2"/><rect x="215.73" y="750.30" width="2.2" height="2.2"/><rect x="217.34" y="751.33" width="2.2" height="2.2"/><rect x="218.96" y="750.68" width="2.2" height="2.2"/><rect x="220.57" y="750.59" width="2.2" height="2.2"/><rect x="222.19" y="750.84" width="2.2" height="2.2"/><rect x="223.80" y="749.95" width="2.2" height="2.2"/><rect x="225.42" y="750.89" width="2.2" height="2.2"/><rect x="227.03" y="750.58" width="2.2" height="2.2"/><rect x="228.65" y="750.50" width="2.2" height="2.2"/><rect x="230.26" y="750.88" width="2.2" height="2.2"/><rect x="231.88" y="750.33" width="2.2" height="2.2"/><rect x="233.49" y="751.18" width="2.2" height="2.2"/><rect x="235.11" y="750.85" width="2.2" height="2.2"/><rect x="236.72" y="750.62" width="2.2" height="2.2"/><rect x="238.34" y="750.59" width="2.2" height="2.2"/><rect x="239.95" y="750.53" width="2.2" height="2.2"/><rect x="241.56" y="751.08" width="2.2" height="2.2"/><rect x="243.18" y="750.47" width="2.2" height="2.2"/><rect x="244.80" y="750.24" width="2.2" height="2.2"/><rect x="246.41" y="751.13" width="2.2" height="2.2"/><rect x="248.03" y="750.46" width="2.2" height="2.2"/><rect x="249.64" y="751.27" width="2.2" height="2.2"/><rect x="251.26" y="750.65" width="2.2" height="2.2"/><rect x="252.87" y="750.55" width="2.2" height="2.2"/><rect x="254.49" y="750.63" width="2.2" height="2.2"/><rect x="256.10" y="750.08" width="2.2" height="2.2"/><rect x="257.71" y="750.84" width="2.2" height="2.2"/><rect x="259.33" y="750.94" width="2.2" height="2.2"/><rect x="260.94" y="750.86" width="2.2" height="2.2"/><rect x="262.56" y="750.81" width="2.2" height="2.2"/><rect x="264.17" y="750.08" width="2.2" height="2.2"/><rect x="265.79" y="751.13" width="2.2" height="2.2"/><rect x="267.40" y="750.57" width="2.2" height="2.2"/><rect x="269.02" y="750.90" width="2.2" height="2.2"/><rect x="270.63" y="751.04" width="2.2" height="2.2"/><rect x="272.25" y="750.08" width="2.2" height="2.2"/><rect x="273.86" y="750.89" width="2.2" height="2.2"/><rect x="275.48" y="750.40" width="2.2" height="2.2"/><rect x="277.09" y="750.25" width="2.2" height="2.2"/><rect x="278.71" y="751.16" width="2.2" height="2.2"/><rect x="280.32" y="750.68" width="2.2" height="2.2"/><rect x="281.94" y="751.37" width="2.2" height="2.2"/><rect x="283.55" y="750.65" width="2.2" height="2.2"/><rect x="285.17" y="750.48" width="2.2" height="2.2"/><rect x="286.78" y="750.69" width="2.2" height="2.2"/><rect x="288.40" y="750.28" width="2.2" height="2.2"/><rect x="290.01" y="751.04" width="2.2" height="2.2"/><rect x="291.63" y="750.51" width="2.2" height="2.2"/><rect x="293.24" y="751.14" width="2.2" height="2.2"/><rect x="294.86" y="751.14" width="2.2" height="2.2"/><rect x="296.47" y="750.56" width="2.2" height="2.2"/><rect x="298.09" y="749.75" width="2.2" height="2.2"/><rect x="299.70" y="749.40" width="2.2" height="2.2"/><rect x="301.32" y="749.98" width="2.2" height="2.2"/><rect x="302.93" y="748.83" width="2.2" height="2.2"/><rect x="304.55" y="748.25" width="2.2" height="2.2"/><rect x="306.16" y="747.67" width="2.2" height="2.2"/><rect x="307.78" y="746.05" width="2.2" height="2.2"/></g>
<line x1="233.00" y1="562.60" x2="258.40" y2="562.60" stroke="#8A8A8A" stroke-width="0.9"/>
<rect x="244.60" y="561.60" width="2.00" height="2.00" fill="#555555" stroke="none" stroke-width="0.8"/>
<text x="262.00" y="566.60" font-size="11.15" fill="#000" stroke="#000" stroke-width="0.12" text-anchor="start">100</text>
<line x1="233.00" y1="576.76" x2="258.40" y2="576.76" stroke="#F28C8C" stroke-width="0.9"/>
<rect x="244.60" y="575.76" width="2.00" height="2.00" fill="#EE4A4A" stroke="none" stroke-width="0.8"/>
<text x="262.00" y="580.76" font-size="11.15" fill="#000" stroke="#000" stroke-width="0.12" text-anchor="start">2000</text>
<line x1="233.00" y1="590.92" x2="258.40" y2="590.92" stroke="#6F9EEC" stroke-width="0.9"/>
<rect x="244.60" y="589.92" width="2.00" height="2.00" fill="#2E6FE2" stroke="none" stroke-width="0.8"/>
<text x="262.00" y="594.92" font-size="11.15" fill="#000" stroke="#000" stroke-width="0.12" text-anchor="start">4000</text>
<line x1="233.00" y1="605.08" x2="258.40" y2="605.08" stroke="#86D2F8" stroke-width="0.9"/>
<rect x="244.60" y="604.08" width="2.00" height="2.00" fill="#36B3F4" stroke="none" stroke-width="0.8"/>
<text x="262.00" y="609.08" font-size="11.15" fill="#000" stroke="#000" stroke-width="0.12" text-anchor="start">6000</text>
<line x1="233.00" y1="619.24" x2="258.40" y2="619.24" stroke="#C7A2F0" stroke-width="0.9"/>
<rect x="244.60" y="618.24" width="2.00" height="2.00" fill="#A46BE6" stroke="none" stroke-width="0.8"/>
<text x="262.00" y="623.24" font-size="11.15" fill="#000" stroke="#000" stroke-width="0.12" text-anchor="start">8000</text>
<line x1="233.00" y1="633.40" x2="258.40" y2="633.40" stroke="#E2B85A" stroke-width="0.9"/>
<rect x="244.60" y="632.40" width="2.00" height="2.00" fill="#D6A01C" stroke="none" stroke-width="0.8"/>
<text x="262.00" y="637.40" font-size="11.15" fill="#000" stroke="#000" stroke-width="0.12" text-anchor="start">10000</text>
<text x="140.10" y="706.90" font-size="8.9" fill="#000" stroke="#000" stroke-width="0.12" text-anchor="start">Average update ratio</text>
<text x="225.00" y="706.90" font-size="8.9" fill="#000" stroke="#000" stroke-width="0.12" text-anchor="start" font-style="italic">R</text>
<text x="231.20" y="709.10" font-size="6" fill="#000" stroke="#000" stroke-width="0.12" text-anchor="start">up</text>
<text x="239.30" y="706.90" font-size="8.9" fill="#000" stroke="#000" stroke-width="0.12" text-anchor="start">: 0.86‰</text>
<text x="31.00" y="649.50" font-size="11.1" fill="#000" stroke="#000" stroke-width="0.12" text-anchor="middle" transform="rotate(-90 31.00 649.50)">Layer update ratio (‰)</text>
<text x="189.50" y="789.60" font-size="11.4" fill="#000" stroke="#000" stroke-width="0.12" text-anchor="middle">Layer index</text>
<text x="351.00" y="543.20" font-size="16.5" fill="#000" stroke="#000" stroke-width="0.12" text-anchor="start">f</text>
<rect x="398.40" y="612.00" width="24.60" height="31.30" fill="#FA9494" stroke="#C87878" stroke-width="0.7"/>
<text x="411.00" y="609.60" font-size="8.9" fill="#000" stroke="#000" stroke-width="0.12" text-anchor="middle">6E-3</text>
<rect x="423.00" y="596.00" width="24.60" height="47.30" fill="#50BAFB" stroke="#2C8AD0" stroke-width="0.7"/>
<text x="436.60" y="594.40" font-size="8.9" fill="#000" stroke="#000" stroke-width="0.12" text-anchor="middle">8.6E-2</text>
<rect x="459.60" y="635.40" width="24.80" height="7.90" fill="#FA9494" stroke="#C87878" stroke-width="0.7"/>
<text x="471.00" y="632.60" font-size="8.9" fill="#000" stroke="#000" stroke-width="0.12" text-anchor="middle">3E-4</text>
<rect x="484.40" y="628.40" width="24.20" height="14.90" fill="#50BAFB" stroke="#2C8AD0" stroke-width="0.7"/>
<text x="496.60" y="625.60" font-size="8.9" fill="#000" stroke="#000" stroke-width="0.12" text-anchor="middle">4E-3</text>
<rect x="521.00" y="576.40" width="24.60" height="66.90" fill="#FA9494" stroke="#C87878" stroke-width="0.7"/>
<text x="533.60" y="574.40" font-size="8.9" fill="#000" stroke="#000" stroke-width="0.12" text-anchor="middle">0.7</text>
<rect x="545.60" y="581.00" width="24.40" height="62.30" fill="#50BAFB" stroke="#2C8AD0" stroke-width="0.7"/>
<text x="557.60" y="579.00" font-size="8.9" fill="#000" stroke="#000" stroke-width="0.12" text-anchor="middle">6</text>
<rect x="582.40" y="559.40" width="24.20" height="83.90" fill="#FA9494" stroke="#C87878" stroke-width="0.7"/>
<text x="594.40" y="557.60" font-size="8.9" fill="#000" stroke="#000" stroke-width="0.12" text-anchor="middle">7</text>
<rect x="606.60" y="551.00" width="24.40" height="92.30" fill="#50BAFB" stroke="#2C8AD0" stroke-width="0.7"/>
<text x="619.00" y="551.20" font-size="8.9" fill="#000" stroke="#000" stroke-width="0.12" text-anchor="middle">100</text>
<line x1="546.10" y1="589.40" x2="569.50" y2="589.40" stroke="#fff" stroke-width="1.6"/>
<line x1="607.10" y1="589.40" x2="630.50" y2="589.40" stroke="#fff" stroke-width="1.6"/>
<line x1="392.40" y1="544.60" x2="637.50" y2="544.60" stroke="#000" stroke-width="1.2"/>
<line x1="392.40" y1="643.30" x2="637.50" y2="643.30" stroke="#000" stroke-width="1.2"/>
<line x1="392.40" y1="544.00" x2="392.40" y2="643.90" stroke="#FF7070" stroke-width="1.2"/>
<line x1="637.50" y1="544.00" x2="637.50" y2="643.90" stroke="#3A8BC6" stroke-width="1.2"/>
<line x1="392.40" y1="556.40" x2="396.00" y2="556.40" stroke="#FF7070" stroke-width="0.9"/>
<text x="373.91" y="559.90" font-size="9.8" fill="#FF7070" stroke="#FF7070" stroke-width="0.12" text-anchor="start">10</text>
<text x="385.00" y="555.70" font-size="6.468000000000001" fill="#FF7070" stroke="#FF7070" stroke-width="0.12" text-anchor="start">1</text>
<line x1="392.40" y1="551.16" x2="394.40" y2="551.16" stroke="#FF7070" stroke-width="0.8"/>
<line x1="392.40" y1="573.82" x2="396.00" y2="573.82" stroke="#FF7070" stroke-width="0.9"/>
<text x="373.91" y="577.32" font-size="9.8" fill="#FF7070" stroke="#FF7070" stroke-width="0.12" text-anchor="start">10</text>
<text x="385.00" y="573.12" font-size="6.468000000000001" fill="#FF7070" stroke="#FF7070" stroke-width="0.12" text-anchor="start">0</text>
<line x1="392.40" y1="568.58" x2="394.40" y2="568.58" stroke="#FF7070" stroke-width="0.8"/>
<line x1="392.40" y1="561.64" x2="394.40" y2="561.64" stroke="#FF7070" stroke-width="0.8"/>
<line x1="392.40" y1="591.24" x2="396.00" y2="591.24" stroke="#FF7070" stroke-width="0.9"/>
<text x="370.13" y="594.74" font-size="9.8" fill="#FF7070" stroke="#FF7070" stroke-width="0.12" text-anchor="start">10</text>
<text x="381.23" y="590.54" font-size="6.468000000000001" fill="#FF7070" stroke="#FF7070" stroke-width="0.12" text-anchor="start">−1</text>
<line x1="392.40" y1="586.00" x2="394.40" y2="586.00" stroke="#FF7070" stroke-width="0.8"/>
<line x1="392.40" y1="579.06" x2="394.40" y2="579.06" stroke="#FF7070" stroke-width="0.8"/>
<line x1="392.40" y1="608.66" x2="396.00" y2="608.66" stroke="#FF7070" stroke-width="0.9"/>
<text x="370.13" y="612.16" font-size="9.8" fill="#FF7070" stroke="#FF7070" stroke-width="0.12" text-anchor="start">10</text>
<text x="381.23" y="607.96" font-size="6.468000000000001" fill="#FF7070" stroke="#FF7070" stroke-width="0.12" text-anchor="start">−2</text>
<line x1="392.40" y1="603.42" x2="394.40" y2="603.42" stroke="#FF7070" stroke-width="0.8"/>
<line x1="392.40" y1="596.48" x2="394.40" y2="596.48" stroke="#FF7070" stroke-width="0.8"/>
<line x1="392.40" y1="626.08" x2="396.00" y2="626.08" stroke="#FF7070" stroke-width="0.9"/>
<text x="370.13" y="629.58" font-size="9.8" fill="#FF7070" stroke="#FF7070" stroke-width="0.12" text-anchor="start">10</text>
<text x="381.23" y="625.38" font-size="6.468000000000001" fill="#FF7070" stroke="#FF7070" stroke-width="0.12" text-anchor="start">−3</text>
<line x1="392.40" y1="620.84" x2="394.40" y2="620.84" stroke="#FF7070" stroke-width="0.8"/>
<line x1="392.40" y1="613.90" x2="394.40" y2="613.90" stroke="#FF7070" stroke-width="0.8"/>
<line x1="392.40" y1="643.50" x2="396.00" y2="643.50" stroke="#FF7070" stroke-width="0.9"/>
<text x="370.13" y="647.00" font-size="9.8" fill="#FF7070" stroke="#FF7070" stroke-width="0.12" text-anchor="start">10</text>
<text x="381.23" y="642.80" font-size="6.468000000000001" fill="#FF7070" stroke="#FF7070" stroke-width="0.12" text-anchor="start">−4</text>
<line x1="392.40" y1="638.26" x2="394.40" y2="638.26" stroke="#FF7070" stroke-width="0.8"/>
<line x1="392.40" y1="631.32" x2="394.40" y2="631.32" stroke="#FF7070" stroke-width="0.8"/>
<line x1="637.50" y1="551.80" x2="633.50" y2="551.80" stroke="#3A8BC6" stroke-width="0.9"/>
<text x="642.40" y="555.30" font-size="9.8" fill="#3A8BC6" stroke="#3A8BC6" stroke-width="0.12" text-anchor="start">10</text>
<text x="653.50" y="551.10" font-size="6.468000000000001" fill="#3A8BC6" stroke="#3A8BC6" stroke-width="0.12" text-anchor="start">2</text>
<line x1="637.50" y1="576.80" x2="633.50" y2="576.80" stroke="#3A8BC6" stroke-width="0.9"/>
<text x="642.40" y="580.30" font-size="9.8" fill="#3A8BC6" stroke="#3A8BC6" stroke-width="0.12" text-anchor="start">10</text>
<text x="653.50" y="576.10" font-size="6.468000000000001" fill="#3A8BC6" stroke="#3A8BC6" stroke-width="0.12" text-anchor="start">1</text>
<line x1="637.50" y1="569.27" x2="635.50" y2="569.27" stroke="#3A8BC6" stroke-width="0.8"/>
<line x1="637.50" y1="564.87" x2="635.50" y2="564.87" stroke="#3A8BC6" stroke-width="0.8"/>
<line x1="637.50" y1="561.75" x2="635.50" y2="561.75" stroke="#3A8BC6" stroke-width="0.8"/>
<line x1="637.50" y1="559.33" x2="635.50" y2="559.33" stroke="#3A8BC6" stroke-width="0.8"/>
<line x1="637.50" y1="557.35" x2="635.50" y2="557.35" stroke="#3A8BC6" stroke-width="0.8"/>
<line x1="637.50" y1="555.67" x2="635.50" y2="555.67" stroke="#3A8BC6" stroke-width="0.8"/>
<line x1="637.50" y1="554.22" x2="635.50" y2="554.22" stroke="#3A8BC6" stroke-width="0.8"/>
<line x1="637.50" y1="552.94" x2="635.50" y2="552.94" stroke="#3A8BC6" stroke-width="0.8"/>
<line x1="637.50" y1="594.20" x2="633.50" y2="594.20" stroke="#3A8BC6" stroke-width="0.9"/>
<text x="642.40" y="597.70" font-size="9.8" fill="#3A8BC6" stroke="#3A8BC6" stroke-width="0.12" text-anchor="start">10</text>
<text x="653.50" y="593.50" font-size="6.468000000000001" fill="#3A8BC6" stroke="#3A8BC6" stroke-width="0.12" text-anchor="start">−1</text>
<line x1="637.50" y1="586.88" x2="635.50" y2="586.88" stroke="#3A8BC6" stroke-width="0.8"/>
<line x1="637.50" y1="582.61" x2="635.50" y2="582.61" stroke="#3A8BC6" stroke-width="0.8"/>
<line x1="637.50" y1="579.57" x2="635.50" y2="579.57" stroke="#3A8BC6" stroke-width="0.8"/>
<line x1="637.50" y1="577.22" x2="635.50" y2="577.22" stroke="#3A8BC6" stroke-width="0.8"/>
<line x1="637.50" y1="575.29" x2="635.50" y2="575.29" stroke="#3A8BC6" stroke-width="0.8"/>
<line x1="637.50" y1="573.66" x2="635.50" y2="573.66" stroke="#3A8BC6" stroke-width="0.8"/>
<line x1="637.50" y1="572.25" x2="635.50" y2="572.25" stroke="#3A8BC6" stroke-width="0.8"/>
<line x1="637.50" y1="571.01" x2="635.50" y2="571.01" stroke="#3A8BC6" stroke-width="0.8"/>
<line x1="637.50" y1="618.50" x2="633.50" y2="618.50" stroke="#3A8BC6" stroke-width="0.9"/>
<text x="642.40" y="622.00" font-size="9.8" fill="#3A8BC6" stroke="#3A8BC6" stroke-width="0.12" text-anchor="start">10</text>
<text x="653.50" y="617.80" font-size="6.468000000000001" fill="#3A8BC6" stroke="#3A8BC6" stroke-width="0.12" text-anchor="start">−2</text>
<line x1="637.50" y1="611.18" x2="635.50" y2="611.18" stroke="#3A8BC6" stroke-width="0.8"/>
<line x1="637.50" y1="606.91" x2="635.50" y2="606.91" stroke="#3A8BC6" stroke-width="0.8"/>
<line x1="637.50" y1="603.87" x2="635.50" y2="603.87" stroke="#3A8BC6" stroke-width="0.8"/>
<line x1="637.50" y1="601.52" x2="635.50" y2="601.52" stroke="#3A8BC6" stroke-width="0.8"/>
<line x1="637.50" y1="599.59" x2="635.50" y2="599.59" stroke="#3A8BC6" stroke-width="0.8"/>
<line x1="637.50" y1="597.96" x2="635.50" y2="597.96" stroke="#3A8BC6" stroke-width="0.8"/>
<line x1="637.50" y1="596.55" x2="635.50" y2="596.55" stroke="#3A8BC6" stroke-width="0.8"/>
<line x1="637.50" y1="595.31" x2="635.50" y2="595.31" stroke="#3A8BC6" stroke-width="0.8"/>
<line x1="637.50" y1="642.80" x2="633.50" y2="642.80" stroke="#3A8BC6" stroke-width="0.9"/>
<text x="642.40" y="646.30" font-size="9.8" fill="#3A8BC6" stroke="#3A8BC6" stroke-width="0.12" text-anchor="start">10</text>
<text x="653.50" y="642.10" font-size="6.468000000000001" fill="#3A8BC6" stroke="#3A8BC6" stroke-width="0.12" text-anchor="start">−3</text>
<line x1="637.50" y1="635.48" x2="635.50" y2="635.48" stroke="#3A8BC6" stroke-width="0.8"/>
<line x1="637.50" y1="631.21" x2="635.50" y2="631.21" stroke="#3A8BC6" stroke-width="0.8"/>
<line x1="637.50" y1="628.17" x2="635.50" y2="628.17" stroke="#3A8BC6" stroke-width="0.8"/>
<line x1="637.50" y1="625.82" x2="635.50" y2="625.82" stroke="#3A8BC6" stroke-width="0.8"/>
<line x1="637.50" y1="623.89" x2="635.50" y2="623.89" stroke="#3A8BC6" stroke-width="0.8"/>
<line x1="637.50" y1="622.26" x2="635.50" y2="622.26" stroke="#3A8BC6" stroke-width="0.8"/>
<line x1="637.50" y1="620.85" x2="635.50" y2="620.85" stroke="#3A8BC6" stroke-width="0.8"/>
<line x1="637.50" y1="619.61" x2="635.50" y2="619.61" stroke="#3A8BC6" stroke-width="0.8"/>
<polygon points="633.50,589.10 641.50,587.80 641.50,590.00 633.50,590.90" fill="#fff"/>
<line x1="633.50" y1="589.10" x2="641.50" y2="587.80" stroke="#3A8BC6" stroke-width="0.8"/>
<line x1="633.50" y1="590.90" x2="641.50" y2="590.00" stroke="#3A8BC6" stroke-width="0.8"/>
<text x="515.60" y="541.60" font-size="9.0" fill="#2D4A8E" stroke="#2D4A8E" stroke-width="0.12" text-anchor="middle">Improvement of EaPU + MP</text>
<line x1="400.00" y1="560.00" x2="582.40" y2="560.00" stroke="#FF2424" stroke-width="1.9" stroke-dasharray="5.2,3.4"/>
<line x1="409.60" y1="595.00" x2="409.60" y2="568.00" stroke="#F24848" stroke-width="1.6"/>
<polygon points="409.60,562.00 412.50,569.00 406.70,569.00" fill="#F24848"/>
<polygon points="409.60,601.00 412.50,594.00 406.70,594.00" fill="#F24848"/>
<text x="415.00" y="582.00" font-size="10.35" fill="#FF2424" stroke="#FF2424" stroke-width="0.12" text-anchor="start">>1,000×</text>
<text x="422.40" y="652.00" font-size="7.7" fill="#000" stroke="#000" stroke-width="0.12" text-anchor="middle">ResNet152</text>
<text x="483.00" y="651.40" font-size="7.7" fill="#000" stroke="#000" stroke-width="0.12" text-anchor="middle">Swin Transformer</text>
<text x="483.00" y="660.00" font-size="7.7" fill="#000" stroke="#000" stroke-width="0.12" text-anchor="middle">(pretrained)</text>
<text x="550.00" y="651.40" font-size="7.7" fill="#000" stroke="#000" stroke-width="0.12" text-anchor="middle">Shallow networks</text>
<text x="609.40" y="651.20" font-size="7.7" fill="#000" stroke="#000" stroke-width="0.12" text-anchor="middle">Naïve MP</text>
<rect x="399.40" y="737.40" width="24.20" height="32.80" fill="#FA9494" stroke="#C87878" stroke-width="0.7"/>
<text x="408.00" y="735.60" font-size="8.9" fill="#000" stroke="#000" stroke-width="0.12" text-anchor="middle">8.6E-4</text>
<rect x="423.60" y="726.40" width="24.40" height="43.80" fill="#50BAFB" stroke="#2C8AD0" stroke-width="0.7"/>
<text x="435.60" y="724.00" font-size="8.9" fill="#000" stroke="#000" stroke-width="0.12" text-anchor="middle">8.6E-2</text>
<rect x="460.40" y="760.40" width="24.20" height="9.80" fill="#FA9494" stroke="#C87878" stroke-width="0.7"/>
<text x="471.00" y="758.60" font-size="8.9" fill="#000" stroke="#000" stroke-width="0.12" text-anchor="middle">4E-5</text>
<rect x="484.60" y="756.60" width="25.00" height="13.60" fill="#50BAFB" stroke="#2C8AD0" stroke-width="0.7"/>
<text x="496.40" y="754.60" font-size="8.9" fill="#000" stroke="#000" stroke-width="0.12" text-anchor="middle">4E-3</text>
<rect x="521.60" y="704.00" width="24.80" height="66.20" fill="#FA9494" stroke="#C87878" stroke-width="0.7"/>
<text x="532.40" y="701.00" font-size="8.9" fill="#000" stroke="#000" stroke-width="0.12" text-anchor="middle">8E-2</text>
<rect x="546.40" y="712.40" width="24.20" height="57.80" fill="#50BAFB" stroke="#2C8AD0" stroke-width="0.7"/>
<text x="557.00" y="709.60" font-size="8.9" fill="#000" stroke="#000" stroke-width="0.12" text-anchor="middle">6</text>
<rect x="583.00" y="685.40" width="24.00" height="84.80" fill="#FA9494" stroke="#C87878" stroke-width="0.7"/>
<text x="594.40" y="683.00" font-size="8.9" fill="#000" stroke="#000" stroke-width="0.12" text-anchor="middle">1</text>
<rect x="607.00" y="684.40" width="24.60" height="85.80" fill="#50BAFB" stroke="#2C8AD0" stroke-width="0.7"/>
<text x="618.00" y="682.60" font-size="8.9" fill="#000" stroke="#000" stroke-width="0.12" text-anchor="middle">100</text>
<line x1="546.90" y1="719.60" x2="570.10" y2="719.60" stroke="#fff" stroke-width="1.6"/>
<line x1="607.50" y1="719.60" x2="631.10" y2="719.60" stroke="#fff" stroke-width="1.6"/>
<line x1="393.60" y1="673.20" x2="637.80" y2="673.20" stroke="#000" stroke-width="1.2"/>
<line x1="393.60" y1="770.20" x2="637.80" y2="770.20" stroke="#000" stroke-width="1.2"/>
<line x1="393.60" y1="672.60" x2="393.60" y2="770.80" stroke="#FF7070" stroke-width="1.2"/>
<line x1="637.80" y1="672.60" x2="637.80" y2="770.80" stroke="#3A8BC6" stroke-width="1.2"/>
<line x1="393.60" y1="685.20" x2="397.20" y2="685.20" stroke="#FF7070" stroke-width="0.9"/>
<text x="375.11" y="688.70" font-size="9.8" fill="#FF7070" stroke="#FF7070" stroke-width="0.12" text-anchor="start">10</text>
<text x="386.20" y="684.50" font-size="6.468000000000001" fill="#FF7070" stroke="#FF7070" stroke-width="0.12" text-anchor="start">0</text>
<line x1="393.60" y1="680.08" x2="395.60" y2="680.08" stroke="#FF7070" stroke-width="0.8"/>
<line x1="393.60" y1="702.20" x2="397.20" y2="702.20" stroke="#FF7070" stroke-width="0.9"/>
<text x="371.33" y="705.70" font-size="9.8" fill="#FF7070" stroke="#FF7070" stroke-width="0.12" text-anchor="start">10</text>
<text x="382.43" y="701.50" font-size="6.468000000000001" fill="#FF7070" stroke="#FF7070" stroke-width="0.12" text-anchor="start">−1</text>
<line x1="393.60" y1="697.08" x2="395.60" y2="697.08" stroke="#FF7070" stroke-width="0.8"/>
<line x1="393.60" y1="690.32" x2="395.60" y2="690.32" stroke="#FF7070" stroke-width="0.8"/>
<line x1="393.60" y1="719.20" x2="397.20" y2="719.20" stroke="#FF7070" stroke-width="0.9"/>
<text x="371.33" y="722.70" font-size="9.8" fill="#FF7070" stroke="#FF7070" stroke-width="0.12" text-anchor="start">10</text>
<text x="382.43" y="718.50" font-size="6.468000000000001" fill="#FF7070" stroke="#FF7070" stroke-width="0.12" text-anchor="start">−2</text>
<line x1="393.60" y1="714.08" x2="395.60" y2="714.08" stroke="#FF7070" stroke-width="0.8"/>
<line x1="393.60" y1="707.32" x2="395.60" y2="707.32" stroke="#FF7070" stroke-width="0.8"/>
<line x1="393.60" y1="736.20" x2="397.20" y2="736.20" stroke="#FF7070" stroke-width="0.9"/>
<text x="371.33" y="739.70" font-size="9.8" fill="#FF7070" stroke="#FF7070" stroke-width="0.12" text-anchor="start">10</text>
<text x="382.43" y="735.50" font-size="6.468000000000001" fill="#FF7070" stroke="#FF7070" stroke-width="0.12" text-anchor="start">−3</text>
<line x1="393.60" y1="731.08" x2="395.60" y2="731.08" stroke="#FF7070" stroke-width="0.8"/>
<line x1="393.60" y1="724.32" x2="395.60" y2="724.32" stroke="#FF7070" stroke-width="0.8"/>
<line x1="393.60" y1="753.20" x2="397.20" y2="753.20" stroke="#FF7070" stroke-width="0.9"/>
<text x="371.33" y="756.70" font-size="9.8" fill="#FF7070" stroke="#FF7070" stroke-width="0.12" text-anchor="start">10</text>
<text x="382.43" y="752.50" font-size="6.468000000000001" fill="#FF7070" stroke="#FF7070" stroke-width="0.12" text-anchor="start">−4</text>
<line x1="393.60" y1="748.08" x2="395.60" y2="748.08" stroke="#FF7070" stroke-width="0.8"/>
<line x1="393.60" y1="741.32" x2="395.60" y2="741.32" stroke="#FF7070" stroke-width="0.8"/>
<line x1="393.60" y1="770.20" x2="397.20" y2="770.20" stroke="#FF7070" stroke-width="0.9"/>
<text x="371.33" y="773.70" font-size="9.8" fill="#FF7070" stroke="#FF7070" stroke-width="0.12" text-anchor="start">10</text>
<text x="382.43" y="769.50" font-size="6.468000000000001" fill="#FF7070" stroke="#FF7070" stroke-width="0.12" text-anchor="start">−5</text>
<line x1="393.60" y1="765.08" x2="395.60" y2="765.08" stroke="#FF7070" stroke-width="0.8"/>
<line x1="393.60" y1="758.32" x2="395.60" y2="758.32" stroke="#FF7070" stroke-width="0.8"/>
<line x1="637.80" y1="684.60" x2="633.80" y2="684.60" stroke="#3A8BC6" stroke-width="0.9"/>
<text x="643.00" y="688.10" font-size="9.8" fill="#3A8BC6" stroke="#3A8BC6" stroke-width="0.12" text-anchor="start">10</text>
<text x="654.10" y="683.90" font-size="6.468000000000001" fill="#3A8BC6" stroke="#3A8BC6" stroke-width="0.12" text-anchor="start">2</text>
<line x1="637.80" y1="677.71" x2="635.80" y2="677.71" stroke="#3A8BC6" stroke-width="0.8"/>
<line x1="637.80" y1="707.50" x2="633.80" y2="707.50" stroke="#3A8BC6" stroke-width="0.9"/>
<text x="643.00" y="711.00" font-size="9.8" fill="#3A8BC6" stroke="#3A8BC6" stroke-width="0.12" text-anchor="start">10</text>
<text x="654.10" y="706.80" font-size="6.468000000000001" fill="#3A8BC6" stroke="#3A8BC6" stroke-width="0.12" text-anchor="start">1</text>
<line x1="637.80" y1="700.61" x2="635.80" y2="700.61" stroke="#3A8BC6" stroke-width="0.8"/>
<line x1="637.80" y1="696.57" x2="635.80" y2="696.57" stroke="#3A8BC6" stroke-width="0.8"/>
<line x1="637.80" y1="693.71" x2="635.80" y2="693.71" stroke="#3A8BC6" stroke-width="0.8"/>
<line x1="637.80" y1="691.49" x2="635.80" y2="691.49" stroke="#3A8BC6" stroke-width="0.8"/>
<line x1="637.80" y1="689.68" x2="635.80" y2="689.68" stroke="#3A8BC6" stroke-width="0.8"/>
<line x1="637.80" y1="688.15" x2="635.80" y2="688.15" stroke="#3A8BC6" stroke-width="0.8"/>
<line x1="637.80" y1="686.82" x2="635.80" y2="686.82" stroke="#3A8BC6" stroke-width="0.8"/>
<line x1="637.80" y1="685.65" x2="635.80" y2="685.65" stroke="#3A8BC6" stroke-width="0.8"/>
<line x1="637.80" y1="724.60" x2="633.80" y2="724.60" stroke="#3A8BC6" stroke-width="0.9"/>
<text x="643.00" y="728.10" font-size="9.8" fill="#3A8BC6" stroke="#3A8BC6" stroke-width="0.12" text-anchor="start">10</text>
<text x="654.10" y="723.90" font-size="6.468000000000001" fill="#3A8BC6" stroke="#3A8BC6" stroke-width="0.12" text-anchor="start">−1</text>
<line x1="637.80" y1="713.70" x2="635.80" y2="713.70" stroke="#3A8BC6" stroke-width="0.8"/>
<line x1="637.80" y1="710.84" x2="635.80" y2="710.84" stroke="#3A8BC6" stroke-width="0.8"/>
<line x1="637.80" y1="708.63" x2="635.80" y2="708.63" stroke="#3A8BC6" stroke-width="0.8"/>
<line x1="637.80" y1="706.82" x2="635.80" y2="706.82" stroke="#3A8BC6" stroke-width="0.8"/>
<line x1="637.80" y1="705.29" x2="635.80" y2="705.29" stroke="#3A8BC6" stroke-width="0.8"/>
<line x1="637.80" y1="703.96" x2="635.80" y2="703.96" stroke="#3A8BC6" stroke-width="0.8"/>
<line x1="637.80" y1="702.80" x2="635.80" y2="702.80" stroke="#3A8BC6" stroke-width="0.8"/>
<line x1="637.80" y1="747.45" x2="633.80" y2="747.45" stroke="#3A8BC6" stroke-width="0.9"/>
<text x="643.00" y="750.95" font-size="9.8" fill="#3A8BC6" stroke="#3A8BC6" stroke-width="0.12" text-anchor="start">10</text>
<text x="654.10" y="746.75" font-size="6.468000000000001" fill="#3A8BC6" stroke="#3A8BC6" stroke-width="0.12" text-anchor="start">−2</text>
<line x1="637.80" y1="740.57" x2="635.80" y2="740.57" stroke="#3A8BC6" stroke-width="0.8"/>
<line x1="637.80" y1="736.55" x2="635.80" y2="736.55" stroke="#3A8BC6" stroke-width="0.8"/>
<line x1="637.80" y1="733.69" x2="635.80" y2="733.69" stroke="#3A8BC6" stroke-width="0.8"/>
<line x1="637.80" y1="731.48" x2="635.80" y2="731.48" stroke="#3A8BC6" stroke-width="0.8"/>
<line x1="637.80" y1="729.67" x2="635.80" y2="729.67" stroke="#3A8BC6" stroke-width="0.8"/>
<line x1="637.80" y1="728.14" x2="635.80" y2="728.14" stroke="#3A8BC6" stroke-width="0.8"/>
<line x1="637.80" y1="726.81" x2="635.80" y2="726.81" stroke="#3A8BC6" stroke-width="0.8"/>
<line x1="637.80" y1="725.65" x2="635.80" y2="725.65" stroke="#3A8BC6" stroke-width="0.8"/>
<line x1="637.80" y1="770.30" x2="633.80" y2="770.30" stroke="#3A8BC6" stroke-width="0.9"/>
<text x="643.00" y="773.80" font-size="9.8" fill="#3A8BC6" stroke="#3A8BC6" stroke-width="0.12" text-anchor="start">10</text>
<text x="654.10" y="769.60" font-size="6.468000000000001" fill="#3A8BC6" stroke="#3A8BC6" stroke-width="0.12" text-anchor="start">−3</text>
<line x1="637.80" y1="763.42" x2="635.80" y2="763.42" stroke="#3A8BC6" stroke-width="0.8"/>
<line x1="637.80" y1="759.40" x2="635.80" y2="759.40" stroke="#3A8BC6" stroke-width="0.8"/>
<line x1="637.80" y1="756.54" x2="635.80" y2="756.54" stroke="#3A8BC6" stroke-width="0.8"/>
<line x1="637.80" y1="754.33" x2="635.80" y2="754.33" stroke="#3A8BC6" stroke-width="0.8"/>
<line x1="637.80" y1="752.52" x2="635.80" y2="752.52" stroke="#3A8BC6" stroke-width="0.8"/>
<line x1="637.80" y1="750.99" x2="635.80" y2="750.99" stroke="#3A8BC6" stroke-width="0.8"/>
<line x1="637.80" y1="749.66" x2="635.80" y2="749.66" stroke="#3A8BC6" stroke-width="0.8"/>
<line x1="637.80" y1="748.50" x2="635.80" y2="748.50" stroke="#3A8BC6" stroke-width="0.8"/>
<polygon points="633.80,719.30 641.80,718.00 641.80,720.20 633.80,721.10" fill="#fff"/>
<line x1="633.80" y1="719.30" x2="641.80" y2="718.00" stroke="#3A8BC6" stroke-width="0.8"/>
<line x1="633.80" y1="721.10" x2="641.80" y2="720.20" stroke="#3A8BC6" stroke-width="0.8"/>
<text x="515.60" y="670.40" font-size="9.0" fill="#2D4A8E" stroke="#2D4A8E" stroke-width="0.12" text-anchor="middle">Improvement of EaPU + FP</text>
<line x1="466.00" y1="685.40" x2="583.00" y2="685.40" stroke="#FF2424" stroke-width="1.9" stroke-dasharray="5.2,3.4"/>
<line x1="470.60" y1="742.00" x2="470.60" y2="695.00" stroke="#F24848" stroke-width="1.6"/>
<polygon points="470.60,689.00 473.50,696.00 467.70,696.00" fill="#F24848"/>
<polygon points="470.60,748.00 473.50,741.00 467.70,741.00" fill="#F24848"/>
<text x="474.60" y="725.00" font-size="10.35" fill="#FF2424" stroke="#FF2424" stroke-width="0.12" text-anchor="start">>10,000×</text>
<text x="423.00" y="780.60" font-size="7.7" fill="#000" stroke="#000" stroke-width="0.12" text-anchor="middle">ResNet152</text>
<text x="483.00" y="780.00" font-size="7.7" fill="#000" stroke="#000" stroke-width="0.12" text-anchor="middle">Swin Transformer</text>
<text x="483.00" y="789.60" font-size="7.7" fill="#000" stroke="#000" stroke-width="0.12" text-anchor="middle">(pretrained)</text>
<text x="548.60" y="780.00" font-size="7.7" fill="#000" stroke="#000" stroke-width="0.12" text-anchor="middle">Shallow networks</text>
<text x="609.00" y="779.20" font-size="7.7" fill="#000" stroke="#000" stroke-width="0.12" text-anchor="middle">Naïve FP</text>
<text transform="translate(364.90,591.00) rotate(-90)" font-size="10.6" text-anchor="middle"><tspan font-style="italic">N</tspan><tspan font-size="7.2" dy="2.4">up</tspan></text>
<text transform="translate(365.90,719.00) rotate(-90)" font-size="10.6" text-anchor="middle"><tspan font-style="italic">N</tspan><tspan font-size="7.2" dy="2.4">up</tspan></text>
<text transform="translate(669.70,593.00) rotate(-90)" font-size="10.2" text-anchor="middle"><tspan font-style="italic">R</tspan><tspan font-size="7" dy="2.4">up</tspan><tspan dy="-2.4"> (%)</tspan></text>
<text transform="translate(670.70,722.00) rotate(-90)" font-size="10.2" text-anchor="middle"><tspan font-style="italic">R</tspan><tspan font-size="7" dy="2.4">up</tspan><tspan dy="-2.4"> (%)</tspan></text>
</svg></body></html>
